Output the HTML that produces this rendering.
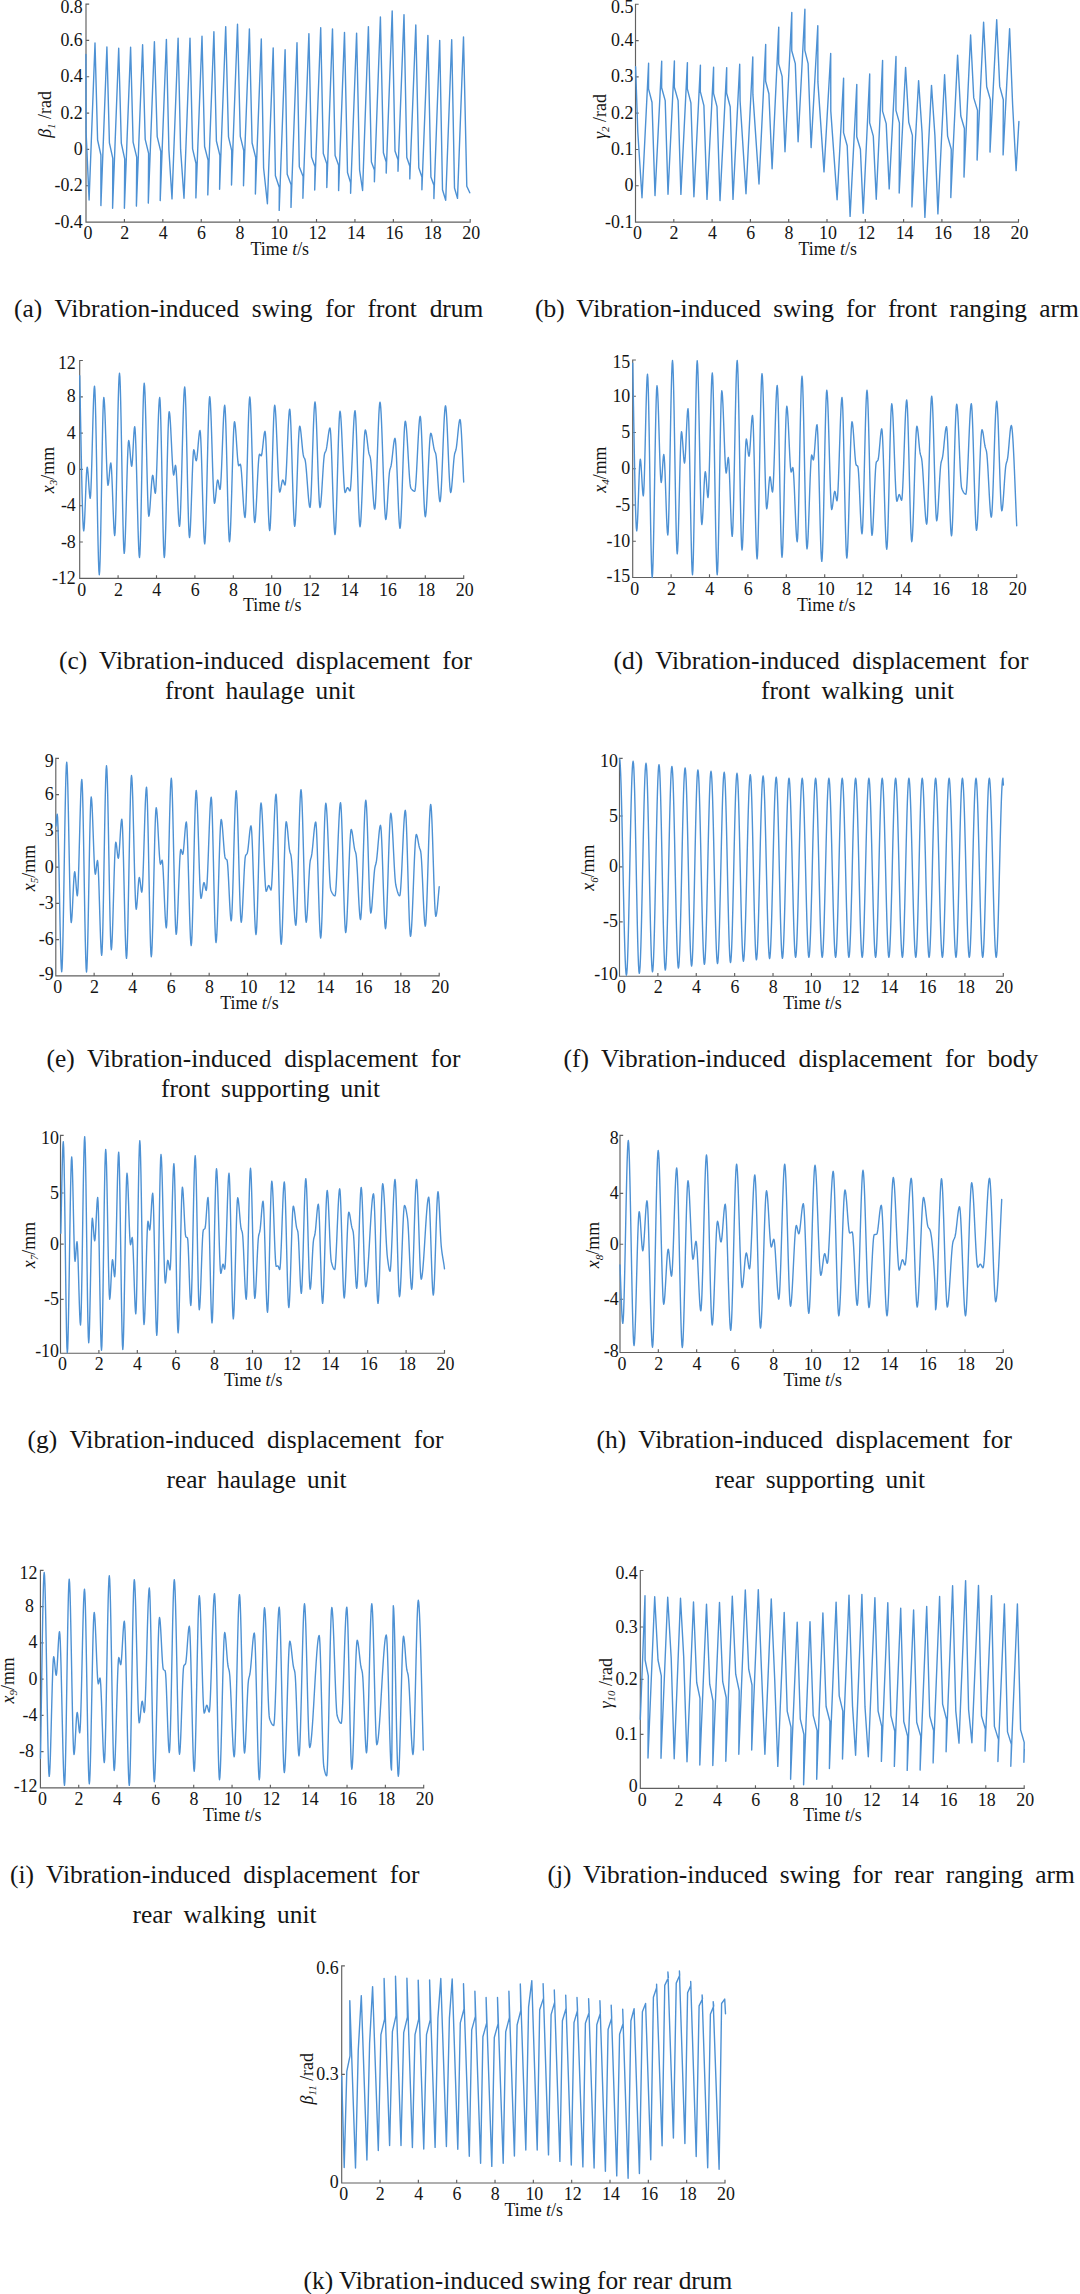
<!DOCTYPE html>
<html lang="en"><head><meta charset="utf-8"><title>Vibration-induced responses</title>
<style>html,body{margin:0;padding:0;background:#fff}body{width:1080px;height:2294px;overflow:hidden}svg{display:block}text{font-family:"Liberation Serif","Times New Roman",serif;fill:#141414}.t{font-size:17.9px}.c{font-size:25.4px;white-space:pre}.ax{stroke:#606060;stroke-width:1.15;fill:none;stroke-linecap:square}.ln{stroke:#4d91d4;stroke-width:1.4;fill:none;stroke-linejoin:round;stroke-linecap:round}i{font-style:italic}</style></head><body>
<svg width="1080" height="2294" viewBox="0 0 1080 2294">
<g id="chart-a">
<path class="ax" d="M86 4.1V222.05H470.2M86 4.1h2.6M86 40.43h2.6M86 76.75h2.6M86 113.08h2.6M86 149.4h2.6M86 185.72h2.6M86 222.05h2.6M86 222.05v-2.6M124.42 222.05v-2.6M162.84 222.05v-2.6M201.26 222.05v-2.6M239.68 222.05v-2.6M278.1 222.05v-2.6M316.52 222.05v-2.6M354.94 222.05v-2.6M393.36 222.05v-2.6M431.78 222.05v-2.6M470.2 222.05v-2.6"/>
<polyline class="ln" points="85.9,54.4 86.1,132.2 89.1,200 95,43 97.6,140 100.9,155 100.9,205.6 106.9,47 109.4,142.8 112.8,158.3 112.6,208.3 118.7,48.3 121.3,143.1 124.7,158.9 124.4,208.3 130.6,47.2 133.1,142.2 136.7,157.2 136.4,206.1 142.6,44.7 145.2,139.4 148.6,153.3 148.3,203.1 154.4,41.7 157.2,136.7 160.8,151.7 160.2,200.6 166.4,39.4 168.9,150 172,198.9 178.1,38.3 180.6,149.4 184,198.3 190,38.1 192.6,148.8 196,163.5 195.9,197.9 202,36.3 204.6,146.5 208.1,160.4 207.8,194.9 213.9,31.7 216.4,141 219.9,155.6 219.6,189.3 225.7,26.6 228.5,136.8 231.7,150.7 231.5,185 237.5,24.3 240.3,136.4 243.75,150.7 243.5,185.8 249.4,28.9 252.1,143 255.7,157.6 255.4,194 261.3,38.9 263.6,168 267.4,203.75 273.2,47.9 275.4,175.7 279.3,187.5 279.2,210.4 285.1,49.8 287.2,174.3 291.1,184.7 291,207.4 297,42.8 299.3,166.7 303.1,176.4 302.9,198.3 308.9,33.6 311.5,156.9 315,166.7 314.7,190 320.7,27.8 323.3,153.5 326.8,163.9 326.8,187.5 332.5,28.9 335.1,155.6 338.6,165.3 338.6,190.6 344.5,32.4 347.5,172.5 350.6,182.9 350.6,193.3 356.6,33.1 359.6,170.1 362.6,190.5 368.4,26.6 371.4,162 374.4,170.1 374.4,181.7 380.4,16.9 383.4,152.8 386.2,162 386.2,173.1 392.2,10.9 395,151 398,159.7 398,171.3 404,14.6 406.8,157.4 409.8,166.2 409.8,178.9 415.8,25 418.8,167.8 421.9,177 421.9,189.8 427.9,35.4 430.9,177 433.9,185.2 433.9,198.6 439.7,40.5 442.5,189.8 445.7,200.2 451.7,39.8 454.5,188 457.5,198.4 463.5,37 466.8,186.3 469.8,192.8"/>
<text class="t" text-anchor="end" x="82.8" y="13.05">0.8</text>
<text class="t" text-anchor="end" x="82.8" y="45.98">0.6</text>
<text class="t" text-anchor="end" x="82.8" y="82.3">0.4</text>
<text class="t" text-anchor="end" x="82.8" y="118.62">0.2</text>
<text class="t" text-anchor="end" x="82.8" y="154.95">0</text>
<text class="t" text-anchor="end" x="82.8" y="191.28">-0.2</text>
<text class="t" text-anchor="end" x="82.8" y="227.6">-0.4</text>
<text class="t" text-anchor="middle" x="88" y="239.25">0</text>
<text class="t" text-anchor="middle" x="124.72" y="239.25">2</text>
<text class="t" text-anchor="middle" x="163.14" y="239.25">4</text>
<text class="t" text-anchor="middle" x="201.56" y="239.25">6</text>
<text class="t" text-anchor="middle" x="239.98" y="239.25">8</text>
<text class="t" text-anchor="middle" x="279.1" y="239.25">10</text>
<text class="t" text-anchor="middle" x="317.52" y="239.25">12</text>
<text class="t" text-anchor="middle" x="355.94" y="239.25">14</text>
<text class="t" text-anchor="middle" x="394.36" y="239.25">16</text>
<text class="t" text-anchor="middle" x="432.78" y="239.25">18</text>
<text class="t" text-anchor="middle" x="471.2" y="239.25">20</text>
<text class="t" text-anchor="middle" x="279.8" y="255.05">Time <tspan font-style="italic">t</tspan>/s</text>
<text class="t" text-anchor="middle" transform="translate(51 114.5) rotate(-90)"><tspan font-style="italic">β</tspan><tspan font-style="italic" font-size="11" dy="3.5">1</tspan><tspan dy="-3.5"> /rad</tspan></text>
</g>
<g id="chart-b">
<path class="ax" d="M635.5 4.25V222.1H1018.5M635.5 4.25h2.6M635.5 40.56h2.6M635.5 76.87h2.6M635.5 113.17h2.6M635.5 149.48h2.6M635.5 185.79h2.6M635.5 222.1h2.6M635.5 222.1v-2.6M673.8 222.1v-2.6M712.1 222.1v-2.6M750.4 222.1v-2.6M788.7 222.1v-2.6M827 222.1v-2.6M865.3 222.1v-2.6M903.6 222.1v-2.6M941.9 222.1v-2.6M980.2 222.1v-2.6M1018.5 222.1v-2.6"/>
<polyline class="ln" points="635.6,66.7 637.8,132 642,197.8 648.6,63.3 648.55,88.9 652,102.2 655,195.6 661.7,61.1 661.65,87.8 665.2,100.6 668,194.2 674.4,60.9 674.35,87.2 678.1,100.6 680.9,194.4 687.4,62.6 687.35,88.9 690.9,102.8 693.9,196.7 700.4,65.3 700.35,91.7 703.9,105.6 707,199.4 713.6,67.2 713.55,93.3 717,106.7 720,200.6 726.7,67.6 726.65,93.3 730.2,106.7 733,199.4 739.7,64.2 740.1,101 746,193.75 752.8,56.9 752.9,94.4 759,184 765.7,44.4 765.65,81.25 768.9,93.75 772.1,168.75 778.75,27.1 778.7,63.9 782.1,76.4 785,151.7 791.8,12.5 791.75,50.7 795.3,63.6 798.1,141.7 804.9,9.3 804.85,50.3 808.1,63.6 811.1,147.6 817.8,25.7 817.9,81.9 824,171.9 830.7,53.5 830.8,111.1 837.1,199.7 843.6,78.1 843.55,132.6 847.2,145.8 850.1,216.4 856.8,84.4 856.75,136.8 860.4,149.3 863.2,213.2 869.7,74 869.65,122.9 873.3,136.1 876.25,199.3 882.6,60.4 882.55,111.1 886.2,123.6 889.2,188.9 896,56.5 895.95,110.4 899.4,122.9 899.2,193 905.6,67.4 908.75,122.2 912.4,135.4 911.9,206.9 918.6,80.6 922.1,133.3 924.9,217.4 931.5,85.4 934.9,135.4 937.9,213.9 944.6,74.7 947.6,136.1 951.25,149.3 950.8,197.6 957.6,55.1 960.8,116 964.4,128.5 964,177.1 970.6,35 973.75,97.9 977.5,110.4 977.1,160.1 983.6,22.2 986.7,86.8 990.4,99.7 990,152.1 996.7,19.7 999.7,86.4 1003.3,99.7 1003.1,154.9 1009.6,28.75 1012.6,104.2 1016.1,170.6 1018.9,121.5"/>
<text class="t" text-anchor="end" x="633.4" y="12.6">0.5</text>
<text class="t" text-anchor="end" x="633.4" y="46.11">0.4</text>
<text class="t" text-anchor="end" x="633.4" y="82.42">0.3</text>
<text class="t" text-anchor="end" x="633.4" y="118.72">0.2</text>
<text class="t" text-anchor="end" x="633.4" y="155.03">0.1</text>
<text class="t" text-anchor="end" x="633.4" y="191.34">0</text>
<text class="t" text-anchor="end" x="633.4" y="227.65">-0.1</text>
<text class="t" text-anchor="middle" x="637.5" y="239.3">0</text>
<text class="t" text-anchor="middle" x="674.1" y="239.3">2</text>
<text class="t" text-anchor="middle" x="712.4" y="239.3">4</text>
<text class="t" text-anchor="middle" x="750.7" y="239.3">6</text>
<text class="t" text-anchor="middle" x="789" y="239.3">8</text>
<text class="t" text-anchor="middle" x="828" y="239.3">10</text>
<text class="t" text-anchor="middle" x="866.3" y="239.3">12</text>
<text class="t" text-anchor="middle" x="904.6" y="239.3">14</text>
<text class="t" text-anchor="middle" x="942.9" y="239.3">16</text>
<text class="t" text-anchor="middle" x="981.2" y="239.3">18</text>
<text class="t" text-anchor="middle" x="1019.5" y="239.3">20</text>
<text class="t" text-anchor="middle" x="827.7" y="255.1">Time <tspan font-style="italic">t</tspan>/s</text>
<text class="t" text-anchor="middle" transform="translate(605.75 116.6) rotate(-90)"><tspan font-style="italic">γ</tspan><tspan font-style="italic" font-size="11" dy="3.5">2</tspan><tspan dy="-3.5"> /rad</tspan></text>
</g>
<g id="chart-c">
<path class="ax" d="M79.7 360.5V578.3H463.7M79.7 360.5h2.6M79.7 396.8h2.6M79.7 433.1h2.6M79.7 469.4h2.6M79.7 505.7h2.6M79.7 542h2.6M79.7 578.3h2.6M79.7 578.3v-2.6M118.1 578.3v-2.6M156.5 578.3v-2.6M194.9 578.3v-2.6M233.3 578.3v-2.6M271.7 578.3v-2.6M310.1 578.3v-2.6M348.5 578.3v-2.6M386.9 578.3v-2.6M425.3 578.3v-2.6M463.7 578.3v-2.6"/>
<polyline class="ln" points="79.7,375.8 80.1,395.21 80.5,415.73 80.9,436.62 81.3,457.14 81.7,476.55 82.1,494.1 82.5,509.04 82.9,520.63 83.3,528.13 83.7,530.8 84.09,528.62 84.48,522.77 84.87,514.31 85.26,504.28 85.64,493.72 86.03,483.69 86.42,475.23 86.81,469.38 87.2,467.2 87.58,468.54 87.95,472.06 88.33,477.04 88.7,482.75 89.08,488.46 89.45,493.44 89.83,496.96 90.2,498.3 90.59,495.69 90.98,488.53 91.37,477.83 91.76,464.61 92.15,449.87 92.55,434.63 92.94,419.89 93.33,406.67 93.72,395.97 94.11,388.81 94.5,386.2 94.9,389.91 95.3,400.16 95.7,415.65 96.1,435.07 96.5,457.11 96.9,480.45 97.3,503.79 97.7,525.83 98.1,545.25 98.5,560.74 98.9,570.99 99.3,574.7 99.67,571.21 100.05,561.57 100.42,547.01 100.8,528.76 101.17,508.04 101.55,486.1 101.92,464.16 102.3,443.44 102.67,425.19 103.05,410.63 103.42,400.99 103.8,397.5 104.18,399.54 104.56,405.15 104.95,413.53 105.33,423.89 105.71,435.43 106.09,447.37 106.47,458.91 106.85,469.27 107.24,477.65 107.62,483.26 108,485.3 108.4,484.06 108.8,480.88 109.2,476.52 109.6,471.78 110,467.42 110.4,464.24 110.8,463 111.19,465.03 111.58,470.54 111.97,478.66 112.36,488.52 112.75,499.25 113.14,509.98 113.53,519.84 113.92,527.96 114.31,533.47 114.7,535.5 115.1,532.31 115.5,523.49 115.9,510.16 116.3,493.45 116.7,474.49 117.1,454.4 117.5,434.31 117.9,415.35 118.3,398.64 118.7,385.31 119.1,376.49 119.5,373.3 119.89,376.84 120.28,386.63 120.67,401.43 121.07,419.97 121.46,441.01 121.85,463.3 122.24,485.59 122.63,506.63 123.03,525.17 123.42,539.97 123.81,549.76 124.2,553.3 124.58,551.08 124.95,544.94 125.33,535.67 125.7,524.06 126.08,510.87 126.45,496.9 126.82,482.93 127.2,469.74 127.57,458.12 127.95,448.86 128.32,442.72 128.7,440.5 129.07,441.61 129.45,444.53 129.82,448.66 130.2,453.4 130.57,458.14 130.95,462.27 131.32,465.19 131.7,466.3 132.07,464.6 132.45,460.11 132.82,453.77 133.2,446.5 133.57,439.23 133.95,432.89 134.32,428.4 134.7,426.7 135.07,428.9 135.44,435.04 135.81,444.38 136.18,456.23 136.55,469.86 136.92,484.57 137.28,499.63 137.65,514.34 138.02,527.97 138.39,539.82 138.76,549.16 139.13,555.3 139.5,557.5 139.89,554.07 140.28,544.6 140.68,530.28 141.07,512.34 141.46,491.97 141.85,470.4 142.24,448.83 142.63,428.46 143.02,410.52 143.42,396.2 143.81,386.73 144.2,383.3 144.58,385.91 144.97,393.14 145.35,404.07 145.73,417.76 146.12,433.29 146.5,449.75 146.88,466.21 147.27,481.74 147.65,495.43 148.03,506.36 148.42,513.59 148.8,516.2 149.19,515.05 149.58,511.95 149.97,507.37 150.36,501.8 150.75,495.75 151.14,489.7 151.53,484.13 151.92,479.55 152.31,476.45 152.7,475.3 153.07,476.3 153.44,478.87 153.81,482.38 154.19,486.22 154.56,489.73 154.93,492.3 155.3,493.3 155.7,491.07 156.1,484.95 156.5,475.81 156.9,464.51 157.3,451.91 157.7,438.89 158.1,426.29 158.5,414.99 158.9,405.85 159.3,399.73 159.7,397.5 160.08,400.65 160.47,409.35 160.85,422.5 161.23,438.98 161.62,457.69 162,477.5 162.38,497.31 162.77,516.02 163.15,532.5 163.53,545.65 163.92,554.35 164.3,557.5 164.68,555.04 165.05,548.21 165.43,537.79 165.81,524.58 166.18,509.39 166.56,492.99 166.94,476.21 167.32,459.81 167.69,444.62 168.07,431.41 168.45,420.99 168.82,414.16 169.2,411.7 169.57,412.95 169.95,416.39 170.32,421.59 170.7,428.11 171.07,435.51 171.45,443.35 171.82,451.19 172.2,458.59 172.57,465.11 172.95,470.31 173.32,473.75 173.7,475 174.06,473.99 174.42,471.59 174.78,468.71 175.14,466.31 175.5,465.3 175.9,467.01 176.3,471.64 176.7,478.48 177.1,486.77 177.5,495.8 177.9,504.83 178.3,513.12 178.7,519.96 179.1,524.59 179.5,526.3 179.9,523.95 180.3,517.42 180.7,507.47 181.1,494.85 181.5,480.33 181.9,464.67 182.3,448.63 182.7,432.97 183.1,418.45 183.5,405.83 183.9,395.88 184.3,389.35 184.7,387 185.07,389.53 185.44,396.59 185.81,407.35 186.18,420.98 186.55,436.66 186.92,453.58 187.28,470.92 187.65,487.84 188.02,503.52 188.39,517.15 188.76,527.91 189.13,534.97 189.5,537.5 189.89,535.46 190.28,529.85 190.67,521.47 191.06,511.11 191.45,499.57 191.85,487.63 192.24,476.09 192.63,465.73 193.02,457.35 193.41,451.74 193.8,449.7 194.2,450.52 194.6,452.58 195,455.25 195.4,457.92 195.8,459.98 196.2,460.8 196.58,459.95 196.96,457.65 197.34,454.26 197.72,450.13 198.1,445.65 198.48,441.17 198.86,437.04 199.24,433.65 199.62,431.35 200,430.5 200.39,432.73 200.78,438.89 201.18,448.2 201.57,459.87 201.96,473.12 202.35,487.15 202.74,501.18 203.13,514.43 203.52,526.1 203.92,535.41 204.31,541.57 204.7,543.8 205.08,541.32 205.47,534.43 205.85,523.91 206.24,510.59 206.62,495.26 207.01,478.72 207.39,461.78 207.78,445.24 208.16,429.91 208.55,416.59 208.93,406.07 209.32,399.18 209.7,396.7 210.07,398.5 210.44,403.49 210.81,411.11 211.18,420.77 211.55,431.88 211.92,443.86 212.28,456.14 212.65,468.12 213.02,479.23 213.39,488.89 213.76,496.51 214.13,501.5 214.5,503.3 214.9,502.3 215.3,499.66 215.7,495.93 216.1,491.65 216.5,487.37 216.9,483.64 217.3,481 217.7,480 218.08,480.7 218.47,482.46 218.85,484.75 219.23,487.04 219.62,488.8 220,489.5 220.39,487.84 220.78,483.26 221.18,476.34 221.57,467.67 221.96,457.83 222.35,447.4 222.74,436.97 223.13,427.13 223.52,418.46 223.92,411.54 224.31,406.96 224.7,405.3 225.07,407.6 225.44,413.99 225.81,423.74 226.18,436.09 226.55,450.31 226.92,465.65 227.28,481.35 227.65,496.69 228.02,510.91 228.39,523.26 228.76,533.01 229.13,539.4 229.5,541.7 229.88,539.68 230.27,534.05 230.65,525.48 231.04,514.61 231.42,502.1 231.81,488.61 232.19,474.79 232.58,461.3 232.96,448.79 233.35,437.92 233.73,429.35 234.12,423.72 234.5,421.7 234.88,422.73 235.26,425.54 235.65,429.75 236.03,434.95 236.41,440.75 236.79,446.75 237.17,452.55 237.55,457.75 237.94,461.96 238.32,464.77 238.7,465.8 239.02,465.63 239.34,465.24 239.66,464.76 239.98,464.37 240.3,464.2 240.69,465.25 241.08,468.15 241.48,472.53 241.87,478.02 242.26,484.25 242.65,490.85 243.04,497.45 243.43,503.68 243.82,509.17 244.22,513.55 244.61,516.45 245,517.5 245.37,515.47 245.74,509.82 246.11,501.21 246.48,490.3 246.85,477.74 247.22,464.19 247.58,450.31 247.95,436.76 248.32,424.2 248.69,413.29 249.06,404.68 249.43,399.03 249.8,397 250.18,399.11 250.55,405 250.93,413.97 251.31,425.33 251.68,438.41 252.06,452.52 252.44,466.98 252.82,481.09 253.19,494.17 253.57,505.53 253.95,514.5 254.32,520.39 254.7,522.5 255.07,521.35 255.44,518.15 255.81,513.27 256.18,507.08 256.55,499.96 256.92,492.28 257.28,484.42 257.65,476.74 258.02,469.62 258.39,463.43 258.76,458.55 259.13,455.35 259.5,454.2 259.84,454.37 260.18,454.76 260.52,455.24 260.86,455.63 261.2,455.8 261.58,455.11 261.96,453.25 262.34,450.51 262.72,447.18 263.1,443.55 263.48,439.92 263.86,436.59 264.24,433.85 264.62,431.99 265,431.3 265.39,433.25 265.78,438.65 266.18,446.8 266.57,457.02 266.96,468.61 267.35,480.9 267.74,493.19 268.13,504.78 268.52,515 268.92,523.15 269.31,528.55 269.7,530.5 270.08,528.39 270.47,522.52 270.85,513.57 271.24,502.23 271.62,489.18 272.01,475.11 272.39,460.69 272.78,446.62 273.16,433.57 273.55,422.23 273.93,413.28 274.32,407.41 274.7,405.3 275.08,406.76 275.47,410.82 275.85,417.02 276.24,424.87 276.62,433.91 277.01,443.66 277.39,453.64 277.78,463.39 278.16,472.43 278.55,480.28 278.93,486.48 279.32,490.54 279.7,492 280.09,491.48 280.48,490.12 280.86,488.2 281.25,486 281.64,483.8 282.02,481.88 282.41,480.52 282.8,480 283.17,480.37 283.53,481.3 283.9,482.5 284.27,483.7 284.63,484.63 285,485 285.39,483.51 285.78,479.39 286.18,473.16 286.57,465.35 286.96,456.49 287.35,447.1 287.74,437.71 288.13,428.85 288.52,421.04 288.92,414.81 289.31,410.69 289.7,409.2 290.08,411.17 290.47,416.66 290.85,425.03 291.24,435.64 291.62,447.84 292.01,461.01 292.39,474.49 292.78,487.66 293.16,499.86 293.55,510.47 293.93,518.84 294.32,524.33 294.7,526.3 295.08,524.61 295.47,519.92 295.85,512.77 296.24,503.7 296.62,493.27 297.01,482.01 297.39,470.49 297.78,459.23 298.16,448.8 298.55,439.73 298.93,432.58 299.32,427.89 299.7,426.2 300.09,426.94 300.48,428.97 300.87,431.99 301.26,435.71 301.65,439.85 302.04,444.1 302.43,448.19 302.82,451.81 303.21,454.68 303.6,456.5 303.95,457.37 304.3,457.99 304.65,458.62 305,459.5 305.38,461.33 305.77,464.28 306.15,468.13 306.54,472.65 306.92,477.62 307.31,482.83 307.69,488.06 308.08,493.09 308.46,497.69 308.85,501.65 309.23,504.75 309.62,506.78 310,507.5 310.38,505.72 310.77,500.78 311.15,493.24 311.54,483.68 311.92,472.69 312.31,460.82 312.69,448.68 313.08,436.81 313.46,425.82 313.85,416.26 314.23,408.72 314.62,403.78 315,402 315.38,403.78 315.77,408.72 316.15,416.26 316.54,425.82 316.92,436.81 317.31,448.68 317.69,460.82 318.08,472.69 318.46,483.68 318.85,493.24 319.23,500.78 319.62,505.72 320,507.5 320.38,506.53 320.77,503.84 321.15,499.76 321.53,494.6 321.92,488.69 322.3,482.36 322.68,475.92 323.07,469.7 323.45,464.03 323.83,459.22 324.22,455.6 324.6,453.5 324.95,452.59 325.3,451.94 325.65,451.33 326,450.5 326.4,448.93 326.8,446.68 327.2,443.94 327.6,440.91 328,437.8 328.4,434.81 328.8,432.13 329.2,429.97 329.6,428.53 330,428 330.38,429.79 330.77,434.79 331.15,442.4 331.54,452.04 331.92,463.14 332.31,475.12 332.69,487.38 333.08,499.36 333.46,510.46 333.85,520.1 334.23,527.71 334.62,532.71 335,534.5 335.38,532.43 335.77,526.65 336.15,517.85 336.54,506.69 336.92,493.84 337.31,479.99 337.69,465.81 338.08,451.96 338.46,439.11 338.85,427.95 339.23,419.15 339.62,413.37 340,411.3 340.39,412.67 340.78,416.47 341.18,422.28 341.57,429.63 341.96,438.1 342.35,447.22 342.75,456.58 343.14,465.7 343.53,474.17 343.92,481.52 344.32,487.33 344.71,491.13 345.1,492.5 345.46,492.23 345.81,491.53 346.17,490.57 346.53,489.53 346.89,488.57 347.24,487.87 347.6,487.6 348,487.85 348.4,488.48 348.8,489.3 349.2,490.12 349.6,490.75 350,491 350.38,489.65 350.77,485.88 351.15,480.13 351.54,472.85 351.92,464.47 352.31,455.43 352.69,446.17 353.08,437.13 353.46,428.75 353.85,421.47 354.23,415.72 354.62,411.95 355,410.6 355.38,412.56 355.77,418 356.15,426.29 356.54,436.81 356.92,448.91 357.31,461.97 357.69,475.33 358.08,488.39 358.46,500.49 358.85,511.01 359.23,519.3 359.62,524.74 360,526.7 360.38,525.29 360.76,521.34 361.14,515.28 361.51,507.53 361.89,498.51 362.27,488.64 362.65,478.35 363.03,468.06 363.41,458.19 363.79,449.17 364.16,441.42 364.54,435.36 364.92,431.41 365.3,430 365.67,430.53 366.04,431.98 366.41,434.16 366.78,436.88 367.15,439.93 367.52,443.14 367.89,446.29 368.26,449.2 368.63,451.66 369,453.5 369.32,454.57 369.65,455.42 369.98,456.31 370.3,457.5 370.7,460.16 371.1,464.37 371.5,469.74 371.9,475.89 372.3,482.46 372.7,489.05 373.1,495.3 373.5,500.81 373.9,505.22 374.3,508.14 374.7,509.2 375.08,507.64 375.46,503.27 375.84,496.57 376.21,487.99 376.59,478 376.97,467.09 377.35,455.7 377.73,444.31 378.11,433.4 378.49,423.41 378.86,414.83 379.24,408.13 379.62,403.76 380,402.2 380.39,403.69 380.77,407.9 381.16,414.4 381.55,422.78 381.93,432.61 382.32,443.49 382.71,454.99 383.09,466.71 383.48,478.21 383.87,489.09 384.25,498.92 384.64,507.3 385.03,513.8 385.41,518.01 385.8,519.5 386.19,518.3 386.58,515.02 386.97,510.13 387.36,504.11 387.75,497.42 388.14,490.53 388.53,483.93 388.92,478.07 389.31,473.44 389.7,470.5 390.02,469.16 390.35,468.15 390.68,467.2 391,466 391.4,463.81 391.8,460.88 392.2,457.45 392.6,453.73 393,449.97 393.4,446.37 393.8,443.18 394.2,440.62 394.6,438.92 395,438.3 395.38,439.82 395.77,444.04 396.15,450.47 396.54,458.62 396.92,468 397.31,478.12 397.69,488.48 398.08,498.6 398.46,507.98 398.85,516.13 399.23,522.56 399.62,526.78 400,528.3 400.38,526.74 400.76,522.37 401.14,515.65 401.51,507.07 401.89,497.08 402.27,486.15 402.65,474.75 403.03,463.35 403.41,452.42 403.79,442.43 404.16,433.85 404.54,427.13 404.92,422.76 405.3,421.2 405.69,422.13 406.09,424.76 406.48,428.79 406.87,433.96 407.26,440 407.66,446.62 408.05,453.56 408.44,460.55 408.84,467.3 409.23,473.55 409.62,479.02 410.01,483.43 410.41,486.52 410.8,488 411.19,488.57 411.58,489.1 411.97,489.58 412.36,490.01 412.75,490.38 413.14,490.7 413.53,490.96 413.92,491.14 414.31,491.26 414.7,491.3 415.09,490.21 415.49,487.15 415.88,482.44 416.27,476.43 416.66,469.43 417.06,461.78 417.45,453.8 417.84,445.82 418.24,438.17 418.63,431.17 419.02,425.16 419.41,420.45 419.81,417.39 420.2,416.3 420.59,417.99 420.98,422.7 421.38,429.87 421.77,438.97 422.16,449.43 422.55,460.72 422.95,472.28 423.34,483.57 423.73,494.03 424.12,503.13 424.52,510.3 424.91,515.01 425.3,516.7 425.69,515.48 426.09,512.08 426.48,506.85 426.87,500.17 427.26,492.39 427.66,483.87 428.05,475 428.44,466.13 428.84,457.61 429.23,449.83 429.62,443.15 430.01,437.92 430.41,434.52 430.8,433.3 431.2,433.75 431.6,434.98 432,436.8 432.4,439.04 432.8,441.52 433.2,444.05 433.6,446.47 434,448.57 434.4,450.2 434.75,451.18 435.1,451.98 435.45,452.84 435.8,454 436.18,456.37 436.56,460.19 436.95,465.12 437.33,470.79 437.71,476.86 438.09,482.97 438.47,488.77 438.85,493.89 439.24,497.99 439.62,500.71 440,501.7 440.39,500.3 440.79,496.39 441.18,490.38 441.57,482.69 441.96,473.74 442.36,463.96 442.75,453.75 443.14,443.54 443.54,433.76 443.93,424.81 444.32,417.12 444.71,411.11 445.11,407.2 445.5,405.8 445.9,407.26 446.3,411.32 446.7,417.52 447.1,425.37 447.5,434.41 447.9,444.16 448.3,454.14 448.7,463.89 449.1,472.93 449.5,480.78 449.9,486.98 450.3,491.04 450.7,492.5 451.09,491.58 451.48,489.06 451.87,485.29 452.26,480.63 452.65,475.44 453.04,470.07 453.43,464.89 453.82,460.25 454.21,456.5 454.6,454 454.95,452.69 455.3,451.7 455.65,450.74 456,449.5 456.4,447.29 456.8,444.21 457.2,440.53 457.6,436.5 458,432.39 458.4,428.44 458.8,424.91 459.2,422.08 459.6,420.19 460,419.5 460.37,420.57 460.74,423.6 461.11,428.28 461.48,434.3 461.85,441.38 462.22,449.2 462.59,457.48 462.96,465.9 463.33,474.18 463.7,482"/>
<text class="t" text-anchor="end" x="75.8" y="368.85">12</text>
<text class="t" text-anchor="end" x="75.8" y="402.35">8</text>
<text class="t" text-anchor="end" x="75.8" y="438.65">4</text>
<text class="t" text-anchor="end" x="75.8" y="474.95">0</text>
<text class="t" text-anchor="end" x="75.8" y="511.25">-4</text>
<text class="t" text-anchor="end" x="75.8" y="547.55">-8</text>
<text class="t" text-anchor="end" x="75.8" y="583.85">-12</text>
<text class="t" text-anchor="middle" x="81.7" y="595.5">0</text>
<text class="t" text-anchor="middle" x="118.4" y="595.5">2</text>
<text class="t" text-anchor="middle" x="156.8" y="595.5">4</text>
<text class="t" text-anchor="middle" x="195.2" y="595.5">6</text>
<text class="t" text-anchor="middle" x="233.6" y="595.5">8</text>
<text class="t" text-anchor="middle" x="272.7" y="595.5">10</text>
<text class="t" text-anchor="middle" x="311.1" y="595.5">12</text>
<text class="t" text-anchor="middle" x="349.5" y="595.5">14</text>
<text class="t" text-anchor="middle" x="387.9" y="595.5">16</text>
<text class="t" text-anchor="middle" x="426.3" y="595.5">18</text>
<text class="t" text-anchor="middle" x="464.7" y="595.5">20</text>
<text class="t" text-anchor="middle" x="272.25" y="611.3">Time <tspan font-style="italic">t</tspan>/s</text>
<text class="t" text-anchor="middle" transform="translate(53.8 470) rotate(-90)"><tspan font-style="italic">x</tspan><tspan font-style="italic" font-size="11" dy="3.5">3</tspan><tspan dy="-3.5">/mm</tspan></text>
</g>
<g id="chart-d">
<path class="ax" d="M632.7 360V577.5H1016.7M632.7 360h2.6M632.7 396.25h2.6M632.7 432.5h2.6M632.7 468.75h2.6M632.7 505h2.6M632.7 541.25h2.6M632.7 577.5h2.6M632.7 577.5v-2.6M671.1 577.5v-2.6M709.5 577.5v-2.6M747.9 577.5v-2.6M786.3 577.5v-2.6M824.7 577.5v-2.6M863.1 577.5v-2.6M901.5 577.5v-2.6M939.9 577.5v-2.6M978.3 577.5v-2.6M1016.7 577.5v-2.6"/>
<polyline class="ln" points="632.7,363.3 633.1,384.27 633.5,406.45 633.9,429.03 634.3,451.2 634.7,472.17 635.1,491.14 635.5,507.28 635.9,519.81 636.3,527.92 636.7,530.8 637.1,528.34 637.5,521.76 637.9,512.24 638.3,500.94 638.7,489.06 639.1,477.76 639.5,468.24 639.9,461.66 640.3,459.2 640.67,460.77 641.05,464.92 641.42,470.78 641.8,477.5 642.17,484.22 642.55,490.08 642.92,494.23 643.3,495.8 643.68,492.97 644.06,485.2 644.45,473.6 644.83,459.26 645.21,443.27 645.59,426.73 645.97,410.74 646.35,396.4 646.74,384.8 647.12,377.03 647.5,374.2 647.89,378.2 648.28,389.26 648.67,405.97 649.07,426.91 649.46,450.67 649.85,475.85 650.24,501.03 650.63,524.79 651.03,545.73 651.42,562.44 651.81,573.5 652.2,577.5 652.6,573.73 653,563.3 653.4,547.55 653.8,527.8 654.2,505.39 654.6,481.65 655,457.91 655.4,435.5 655.8,415.75 656.2,400 656.6,389.57 657,385.8 657.38,388.05 657.76,394.23 658.15,403.45 658.53,414.86 658.91,427.57 659.29,440.73 659.67,453.44 660.05,464.85 660.44,474.07 660.82,480.25 661.2,482.5 661.57,480.95 661.94,476.95 662.31,471.48 662.69,465.52 663.06,460.05 663.43,456.05 663.8,454.5 664.2,456.75 664.6,462.87 665,471.89 665.4,482.84 665.8,494.75 666.2,506.66 666.6,517.61 667,526.63 667.4,532.75 667.8,535 668.19,531.57 668.58,522.07 668.97,507.73 669.37,489.76 669.76,469.36 670.15,447.75 670.54,426.14 670.93,405.74 671.33,387.77 671.72,373.43 672.11,363.93 672.5,360.5 672.89,364.3 673.28,374.82 673.67,390.7 674.07,410.61 674.46,433.21 674.85,457.15 675.24,481.09 675.63,503.69 676.03,523.6 676.42,539.48 676.81,550 677.2,553.8 677.59,550.96 677.98,543.16 678.37,531.51 678.76,517.11 679.15,501.05 679.55,484.45 679.94,468.39 680.33,453.99 680.72,442.34 681.11,434.54 681.5,431.7 681.88,433.04 682.25,436.59 682.62,441.6 683,447.35 683.38,453.1 683.75,458.11 684.12,461.66 684.5,463 684.89,461.14 685.28,456.15 685.67,448.92 686.06,440.36 686.44,431.34 686.83,422.78 687.22,415.55 687.61,410.56 688,408.7 688.38,411.97 688.75,421 689.12,434.64 689.5,451.74 689.88,471.14 690.25,491.7 690.62,512.26 691,531.66 691.38,548.76 691.75,562.4 692.12,571.43 692.5,574.7 692.89,570.49 693.28,558.86 693.67,541.28 694.07,519.24 694.46,494.24 694.85,467.75 695.24,441.26 695.63,416.26 696.03,394.22 696.42,376.64 696.81,365.01 697.2,360.8 697.58,364.02 697.97,372.93 698.35,386.38 698.73,403.24 699.12,422.38 699.5,442.65 699.88,462.92 700.27,482.06 700.65,498.92 701.03,512.37 701.42,521.28 701.8,524.5 702.19,522.69 702.58,517.84 702.97,510.81 703.36,502.48 703.74,493.72 704.13,485.39 704.52,478.36 704.91,473.51 705.3,471.7 705.69,473.13 706.07,476.81 706.46,481.85 706.84,487.35 707.23,492.39 707.61,496.07 708,497.5 708.39,494.6 708.78,486.65 709.17,474.77 709.56,460.08 709.95,443.72 710.35,426.78 710.74,410.42 711.13,395.73 711.52,383.85 711.91,375.9 712.3,373 712.68,376.4 713.05,385.85 713.43,400.27 713.81,418.54 714.18,439.56 714.56,462.24 714.94,485.46 715.32,508.14 715.69,529.16 716.07,547.43 716.45,561.85 716.82,571.3 717.2,574.7 717.58,571.08 717.97,561.08 718.35,545.97 718.73,527.02 719.12,505.52 719.5,482.75 719.88,459.98 720.27,438.48 720.65,419.53 721.03,404.42 721.42,394.42 721.8,390.8 722.17,392.42 722.53,396.89 722.9,403.64 723.27,412.11 723.63,421.72 724,431.9 724.37,442.08 724.73,451.69 725.1,460.16 725.47,466.91 725.83,471.38 726.2,473 726.55,471.85 726.9,468.98 727.25,465.25 727.6,461.52 727.95,458.65 728.3,457.5 728.69,459.71 729.08,465.7 729.47,474.52 729.86,485.24 730.25,496.9 730.64,508.56 731.03,519.28 731.42,528.1 731.81,534.09 732.2,536.3 732.58,533.34 732.97,525.1 733.35,512.53 733.74,496.61 734.12,478.29 734.51,458.52 734.89,438.28 735.28,418.51 735.66,400.19 736.05,384.27 736.43,371.7 736.82,363.46 737.2,360.5 737.6,364.23 738,374.54 738.4,390.11 738.8,409.63 739.2,431.78 739.6,455.25 740,478.72 740.4,500.87 740.8,520.39 741.2,535.96 741.6,546.27 742,550 742.39,547.41 742.78,540.33 743.17,529.73 743.56,516.64 743.95,502.05 744.35,486.95 744.74,472.36 745.13,459.27 745.52,448.67 745.91,441.59 746.3,439 746.69,439.96 747.07,442.43 747.46,445.81 747.84,449.49 748.23,452.87 748.61,455.34 749,456.3 749.39,454.9 749.78,451.14 750.17,445.7 750.56,439.24 750.94,432.46 751.33,426 751.72,420.56 752.11,416.8 752.5,415.4 752.88,418.22 753.27,426.02 753.65,437.81 754.03,452.58 754.42,469.34 754.8,487.1 755.18,504.86 755.57,521.62 755.95,536.39 756.33,548.18 756.72,555.98 757.1,558.8 757.48,555.68 757.85,547 758.23,533.78 758.61,517.01 758.98,497.72 759.36,476.91 759.74,455.59 760.12,434.78 760.49,415.49 760.87,398.72 761.25,385.5 761.62,376.82 762,373.7 762.39,376.36 762.78,383.71 763.17,394.81 763.57,408.73 763.96,424.52 764.35,441.25 764.74,457.98 765.13,473.77 765.53,487.69 765.92,498.79 766.31,506.14 766.7,508.8 767.07,507.7 767.43,504.75 767.8,500.48 768.17,495.41 768.53,490.09 768.9,485.02 769.27,480.75 769.63,477.8 770,476.7 770.36,477.55 770.71,479.73 771.07,482.72 771.43,485.98 771.79,488.97 772.14,491.15 772.5,492 772.89,489.9 773.28,484.11 773.67,475.36 774.07,464.39 774.46,451.94 774.85,438.75 775.24,425.56 775.63,413.11 776.03,402.14 776.42,393.39 776.81,387.6 777.2,385.5 777.6,388.88 778,398.22 778.4,412.33 778.8,430.01 779.2,450.09 779.6,471.35 780,492.61 780.4,512.69 780.8,530.37 781.2,544.48 781.6,553.82 782,557.2 782.4,554.23 782.8,546.02 783.2,533.62 783.6,518.08 784,500.44 784.4,481.75 784.8,463.06 785.2,445.42 785.6,429.88 786,417.48 786.4,409.27 786.8,406.3 787.17,407.59 787.53,411.17 787.9,416.57 788.27,423.33 788.63,431.01 789,439.15 789.37,447.29 789.73,454.97 790.1,461.73 790.47,467.13 790.83,470.71 791.2,472 791.6,471.3 792,469.75 792.4,468.2 792.8,467.5 793.17,468.96 793.53,473 793.9,479.09 794.27,486.74 794.63,495.41 795,504.6 795.37,513.79 795.73,522.46 796.1,530.11 796.47,536.2 796.83,540.24 797.2,541.7 797.6,538.45 798,529.45 798.4,515.86 798.8,498.82 799.2,479.48 799.6,459 800,438.52 800.4,419.18 800.8,402.14 801.2,388.55 801.6,379.55 802,376.3 802.38,379.21 802.77,387.29 803.15,399.62 803.54,415.24 803.92,433.22 804.31,452.62 804.69,472.48 805.08,491.88 805.46,509.86 805.85,525.48 806.23,537.81 806.62,545.89 807,548.8 807.39,546.95 807.78,541.85 808.17,534.14 808.57,524.48 808.96,513.52 809.35,501.9 809.74,490.28 810.13,479.32 810.53,469.66 810.92,461.95 811.31,456.85 811.7,455 812.1,455.78 812.5,457.5 812.9,459.22 813.3,460 813.67,459.01 814.04,456.33 814.41,452.38 814.78,447.57 815.15,442.35 815.52,437.13 815.89,432.32 816.26,428.37 816.63,425.69 817,424.7 817.4,427.39 817.8,434.82 818.2,446.04 818.6,460.11 819,476.08 819.4,493 819.8,509.92 820.2,525.89 820.6,539.96 821,551.18 821.4,558.61 821.8,561.3 822.18,558.42 822.57,550.4 822.95,538.18 823.34,522.69 823.72,504.87 824.11,485.65 824.49,465.95 824.88,446.73 825.26,428.91 825.65,413.42 826.03,401.2 826.42,393.18 826.8,390.3 827.18,392.31 827.55,397.9 827.93,406.41 828.31,417.21 828.68,429.64 829.06,443.04 829.44,456.76 829.82,470.16 830.19,482.59 830.57,493.39 830.95,501.9 831.32,507.49 831.7,509.5 832.09,508.72 832.48,506.66 832.86,503.74 833.25,500.4 833.64,497.06 834.02,494.14 834.41,492.08 834.8,491.3 835.17,492 835.53,493.76 835.9,496.05 836.27,498.34 836.63,500.1 837,500.8 837.38,499.06 837.77,494.22 838.15,486.84 838.54,477.48 838.92,466.71 839.31,455.1 839.69,443.2 840.08,431.59 840.46,420.82 840.85,411.46 841.23,404.08 841.62,399.24 842,397.5 842.4,400.66 842.8,409.39 843.2,422.58 843.6,439.11 844,457.87 844.4,477.75 844.8,497.63 845.2,516.39 845.6,532.92 846,546.11 846.4,554.84 846.8,558 847.17,556.01 847.54,550.45 847.91,541.91 848.29,530.98 848.66,518.26 849.03,504.35 849.4,489.85 849.77,475.35 850.14,461.44 850.51,448.72 850.89,437.79 851.26,429.25 851.63,423.69 852,421.7 852.38,422.67 852.76,425.32 853.15,429.3 853.53,434.24 853.91,439.77 854.29,445.54 854.67,451.16 855.05,456.29 855.44,460.54 855.82,463.57 856.2,465 856.6,465.4 857,465.64 857.4,465.89 857.8,466.3 858.18,468.3 858.56,472.88 858.95,479.45 859.33,487.43 859.71,496.23 860.09,505.28 860.47,514 860.85,521.79 861.24,528.07 861.62,532.27 862,533.8 862.38,531.38 862.77,524.66 863.15,514.4 863.54,501.4 863.92,486.45 864.31,470.31 864.69,453.79 865.08,437.65 865.46,422.7 865.85,409.7 866.23,399.44 866.62,392.72 867,390.3 867.38,392.74 867.77,399.54 868.15,409.9 868.54,423.04 868.92,438.15 869.31,454.45 869.69,471.15 870.08,487.45 870.46,502.56 870.85,515.7 871.23,526.06 871.62,532.86 872,535.3 872.39,533.67 872.78,529.18 873.17,522.45 873.56,514.11 873.95,504.76 874.35,495.02 874.74,485.52 875.13,476.87 875.52,469.69 875.91,464.59 876.3,462.2 876.64,461.62 876.98,461.24 877.32,460.93 877.66,460.56 878,460 878.38,458.5 878.75,455.77 879.12,452.13 879.5,447.91 879.88,443.44 880.25,439.04 880.62,435.05 881,431.8 881.38,429.6 881.75,428.8 882.13,430.83 882.52,436.47 882.9,445.08 883.29,455.98 883.67,468.53 884.06,482.07 884.44,495.93 884.83,509.47 885.21,522.02 885.6,532.92 885.98,541.53 886.37,547.17 886.75,549.2 887.13,546.75 887.52,539.93 887.9,529.54 888.29,516.37 888.67,501.22 889.06,484.87 889.44,468.13 889.83,451.78 890.21,436.63 890.6,423.46 890.98,413.07 891.37,406.25 891.75,403.8 892.14,405.44 892.53,410.01 892.93,416.97 893.32,425.79 893.71,435.94 894.1,446.89 894.5,458.11 894.89,469.06 895.28,479.21 895.67,488.03 896.07,494.99 896.46,499.56 896.85,501.2 897.25,500.7 897.65,499.46 898.05,497.85 898.45,496.24 898.85,495 899.25,494.5 899.64,494.93 900.03,496 900.42,497.4 900.82,498.8 901.21,499.87 901.6,500.3 901.99,498.61 902.38,493.91 902.78,486.74 903.17,477.66 903.56,467.2 903.95,455.93 904.35,444.37 904.74,433.1 905.13,422.64 905.52,413.56 905.92,406.39 906.31,401.69 906.7,400 907.09,402.39 907.48,409.03 907.87,419.16 908.25,431.99 908.64,446.76 909.03,462.69 909.42,479.01 909.81,494.94 910.2,509.71 910.58,522.54 910.97,532.67 911.36,539.31 911.75,541.7 912.15,539.75 912.54,534.34 912.94,526.09 913.33,515.62 913.73,503.59 914.13,490.6 914.52,477.3 914.92,464.31 915.32,452.28 915.71,441.81 916.11,433.56 916.5,428.15 916.9,426.2 917.27,426.96 917.63,429.05 918,432.12 918.37,435.87 918.73,439.97 919.1,444.11 919.47,447.95 919.83,451.19 920.2,453.5 920.55,454.88 920.9,455.94 921.25,457.04 921.6,458.5 921.99,461.29 922.38,465.52 922.78,470.9 923.17,477.13 923.56,483.93 923.95,491.01 924.35,498.09 924.74,504.86 925.13,511.06 925.52,516.37 925.92,520.53 926.31,523.23 926.7,524.2 927.08,522.04 927.47,516.04 927.85,506.9 928.24,495.3 928.62,481.96 929.01,467.57 929.39,452.83 929.78,438.44 930.16,425.1 930.55,413.5 930.93,404.36 931.32,398.36 931.7,396.2 932.08,398.3 932.47,404.14 932.85,413.04 933.24,424.33 933.62,437.32 934.01,451.33 934.39,465.67 934.78,479.68 935.16,492.67 935.55,503.96 935.93,512.86 936.32,518.7 936.7,520.8 937.09,519.62 937.48,516.36 937.87,511.44 938.26,505.29 938.65,498.32 939.05,490.96 939.44,483.62 939.83,476.74 940.22,470.73 940.61,466.01 941,463 941.35,461.51 941.7,460.4 942.05,459.35 942.4,458 942.77,455.86 943.15,452.98 943.52,449.57 943.89,445.82 944.26,441.93 944.64,438.1 945.01,434.52 945.38,431.4 945.75,428.92 946.13,427.29 946.5,426.7 946.88,428.54 947.27,433.65 947.65,441.45 948.04,451.33 948.42,462.7 948.81,474.97 949.19,487.53 949.58,499.8 949.96,511.17 950.35,521.05 950.73,528.85 951.12,533.96 951.5,535.8 951.87,533.88 952.24,528.51 952.61,520.26 952.99,509.71 953.36,497.43 953.73,484 954.1,470 954.47,456 954.84,442.57 955.21,430.29 955.59,419.74 955.96,411.49 956.33,406.12 956.7,404.2 957.08,405.55 957.47,409.3 957.85,415.04 958.24,422.34 958.62,430.78 959.01,439.93 959.39,449.37 959.78,458.67 960.16,467.41 960.55,475.17 960.93,481.52 961.32,486.04 961.7,488.3 962.07,489.23 962.45,490.1 962.82,490.9 963.19,491.63 963.56,492.28 963.94,492.84 964.31,493.32 964.68,493.69 965.05,493.97 965.43,494.14 965.8,494.2 966.19,492.88 966.59,489.19 966.98,483.51 967.37,476.26 967.76,467.82 968.16,458.58 968.55,448.95 968.94,439.32 969.34,430.08 969.73,421.64 970.12,414.39 970.51,408.71 970.91,405.02 971.3,403.7 971.67,405.55 972.04,410.71 972.41,418.65 972.79,428.8 973.16,440.61 973.53,453.53 973.9,467 974.27,480.47 974.64,493.39 975.01,505.2 975.39,515.35 975.76,523.29 976.13,528.45 976.5,530.3 976.89,528.83 977.29,524.73 977.68,518.42 978.07,510.36 978.46,500.97 978.86,490.71 979.25,480 979.64,469.29 980.04,459.03 980.43,449.64 980.82,441.58 981.21,435.27 981.61,431.17 982,429.7 982.36,430.15 982.71,431.38 983.07,433.21 983.42,435.48 983.78,437.99 984.13,440.57 984.49,443.06 984.84,445.26 985.2,447 985.53,448.15 985.85,449.11 986.17,450.14 986.5,451.5 986.9,454.46 987.3,459.12 987.7,465.11 988.1,472.06 988.5,479.59 988.9,487.33 989.3,494.9 989.7,501.93 990.1,508.05 990.5,512.88 990.9,516.06 991.3,517.2 991.69,515.51 992.07,510.78 992.46,503.52 992.84,494.22 993.23,483.41 993.61,471.58 994,459.25 994.39,446.92 994.77,435.09 995.16,424.28 995.54,414.98 995.93,407.72 996.31,402.99 996.7,401.3 997.09,403.14 997.48,408.28 997.88,416.1 998.27,426.02 998.66,437.43 999.05,449.75 999.45,462.35 999.84,474.67 1000.23,486.08 1000.62,496 1001.02,503.82 1001.41,508.96 1001.8,510.8 1002.18,509.88 1002.56,507.33 1002.95,503.48 1003.33,498.64 1003.71,493.15 1004.09,487.33 1004.47,481.49 1004.85,475.97 1005.24,471.08 1005.62,467.15 1006,464.5 1006.35,463.05 1006.7,461.96 1007.05,460.89 1007.4,459.5 1007.79,457.05 1008.18,453.59 1008.57,449.43 1008.96,444.86 1009.35,440.18 1009.74,435.69 1010.13,431.68 1010.52,428.44 1010.91,426.29 1011.3,425.5 1011.69,426.39 1012.07,428.95 1012.46,433 1012.84,438.37 1013.23,444.87 1013.61,452.34 1014,460.6 1014.39,469.48 1014.77,478.79 1015.16,488.37 1015.54,498.03 1015.93,507.61 1016.31,516.93 1016.7,525.8"/>
<text class="t" text-anchor="end" x="630.3" y="368.35">15</text>
<text class="t" text-anchor="end" x="630.3" y="401.8">10</text>
<text class="t" text-anchor="end" x="630.3" y="438.05">5</text>
<text class="t" text-anchor="end" x="630.3" y="474.3">0</text>
<text class="t" text-anchor="end" x="630.3" y="510.55">-5</text>
<text class="t" text-anchor="end" x="630.3" y="546.8">-10</text>
<text class="t" text-anchor="end" x="630.3" y="582.15">-15</text>
<text class="t" text-anchor="middle" x="634.7" y="594.7">0</text>
<text class="t" text-anchor="middle" x="671.4" y="594.7">2</text>
<text class="t" text-anchor="middle" x="709.8" y="594.7">4</text>
<text class="t" text-anchor="middle" x="748.2" y="594.7">6</text>
<text class="t" text-anchor="middle" x="786.6" y="594.7">8</text>
<text class="t" text-anchor="middle" x="825.7" y="594.7">10</text>
<text class="t" text-anchor="middle" x="864.1" y="594.7">12</text>
<text class="t" text-anchor="middle" x="902.5" y="594.7">14</text>
<text class="t" text-anchor="middle" x="940.9" y="594.7">16</text>
<text class="t" text-anchor="middle" x="979.3" y="594.7">18</text>
<text class="t" text-anchor="middle" x="1017.7" y="594.7">20</text>
<text class="t" text-anchor="middle" x="826.25" y="610.5">Time <tspan font-style="italic">t</tspan>/s</text>
<text class="t" text-anchor="middle" transform="translate(605.8 469.6) rotate(-90)"><tspan font-style="italic">x</tspan><tspan font-style="italic" font-size="11" dy="3.5">4</tspan><tspan dy="-3.5">/mm</tspan></text>
</g>
<g id="chart-e">
<path class="ax" d="M55.8 758.3V975.8H439.2M55.8 758.3h2.6M55.8 794.55h2.6M55.8 830.8h2.6M55.8 867.05h2.6M55.8 903.3h2.6M55.8 939.55h2.6M55.8 975.8h2.6M55.8 975.8v-2.6M94.14 975.8v-2.6M132.48 975.8v-2.6M170.82 975.8v-2.6M209.16 975.8v-2.6M247.5 975.8v-2.6M285.84 975.8v-2.6M324.18 975.8v-2.6M362.52 975.8v-2.6M400.86 975.8v-2.6M439.2 975.8v-2.6"/>
<polyline class="ln" points="55.9,826 56.23,822.16 56.55,818.33 56.88,815.38 57.2,814.2 57.58,817.3 57.95,825.87 58.33,838.81 58.7,855.03 59.08,873.44 59.45,892.95 59.83,912.46 60.2,930.87 60.58,947.09 60.95,960.03 61.33,968.6 61.7,971.7 62.08,968.17 62.47,958.35 62.85,943.38 63.24,924.4 63.62,902.57 64.01,879.01 64.39,854.89 64.78,831.33 65.16,809.5 65.55,790.52 65.93,775.55 66.32,765.73 66.7,762.2 67.08,765.35 67.45,774.07 67.83,787.25 68.2,803.76 68.58,822.5 68.95,842.35 69.33,862.2 69.7,880.94 70.08,897.45 70.45,910.63 70.83,919.35 71.2,922.5 71.59,920.76 71.98,916.09 72.37,909.33 72.76,901.32 73.14,892.88 73.53,884.87 73.92,878.11 74.31,873.44 74.7,871.7 75.07,873.03 75.44,876.48 75.81,881.19 76.19,886.31 76.56,891.02 76.93,894.47 77.3,895.8 77.67,893.51 78.05,887.19 78.42,877.63 78.8,865.65 79.17,852.05 79.55,837.65 79.92,823.25 80.3,809.65 80.67,797.67 81.05,788.11 81.42,781.79 81.8,779.5 82.19,783.29 82.58,793.76 82.97,809.58 83.37,829.41 83.76,851.91 84.15,875.75 84.54,899.59 84.93,922.09 85.33,941.92 85.72,957.74 86.11,968.21 86.5,972 86.89,968.56 87.28,959.04 87.67,944.66 88.07,926.63 88.46,906.17 88.85,884.5 89.24,862.83 89.63,842.37 90.03,824.34 90.42,809.96 90.81,800.44 91.2,797 91.57,798.8 91.95,803.73 92.32,811.09 92.69,820.2 93.06,830.35 93.44,840.85 93.81,851 94.18,860.11 94.55,867.47 94.93,872.4 95.3,874.2 95.67,873.19 96.03,870.65 96.4,867.35 96.77,864.05 97.13,861.51 97.5,860.5 97.88,862.71 98.26,868.76 98.65,877.81 99.03,888.99 99.41,901.45 99.79,914.35 100.17,926.81 100.55,937.99 100.94,947.04 101.32,953.09 101.7,955.3 102.1,951.57 102.5,941.26 102.9,925.69 103.3,906.17 103.7,884.02 104.1,860.55 104.5,837.08 104.9,814.93 105.3,795.41 105.7,779.84 106.1,769.53 106.5,765.8 106.9,769.42 107.3,779.42 107.7,794.53 108.1,813.48 108.5,834.98 108.9,857.75 109.3,880.52 109.7,902.02 110.1,920.97 110.5,936.08 110.9,946.08 111.3,949.7 111.67,947.58 112.05,941.74 112.42,932.9 112.8,921.83 113.17,909.26 113.55,895.95 113.92,882.64 114.3,870.07 114.67,859 115.05,850.16 115.42,844.32 115.8,842.2 116.16,843.09 116.51,845.39 116.87,848.54 117.23,851.96 117.59,855.11 117.94,857.41 118.3,858.3 118.69,856.96 119.08,853.37 119.47,848.16 119.86,841.99 120.24,835.51 120.63,829.34 121.02,824.13 121.41,820.54 121.8,819.2 122.19,821.94 122.58,829.5 122.97,840.93 123.37,855.26 123.76,871.52 124.15,888.75 124.54,905.98 124.93,922.24 125.33,936.57 125.72,948 126.11,955.56 126.5,958.3 126.88,955.22 127.27,946.65 127.65,933.59 128.04,917.03 128.42,897.98 128.81,877.43 129.19,856.37 129.58,835.82 129.96,816.77 130.35,800.21 130.73,787.15 131.12,778.58 131.5,775.5 131.89,778.13 132.28,785.4 132.68,796.39 133.07,810.16 133.46,825.79 133.85,842.35 134.24,858.91 134.63,874.54 135.02,888.31 135.42,899.3 135.81,906.57 136.2,909.2 136.59,907.84 136.97,904.25 137.36,899.17 137.75,893.35 138.14,887.53 138.53,882.45 138.91,878.86 139.3,877.5 139.66,878.31 140.01,880.41 140.37,883.29 140.73,886.41 141.09,889.29 141.44,891.39 141.8,892.2 142.19,890.13 142.58,884.42 142.98,875.79 143.37,864.98 143.76,852.7 144.15,839.7 144.54,826.7 144.93,814.42 145.32,803.61 145.72,794.98 146.11,789.27 146.5,787.2 146.87,790.05 147.24,798 147.61,810.11 147.98,825.47 148.35,843.13 148.72,862.19 149.08,881.71 149.45,900.77 149.82,918.43 150.19,933.79 150.56,945.9 150.93,953.85 151.3,956.7 151.68,954.19 152.05,947.21 152.43,936.57 152.81,923.08 153.18,907.56 153.56,890.82 153.94,873.68 154.32,856.94 154.69,841.42 155.07,827.93 155.45,817.29 155.82,810.31 156.2,807.8 156.59,809.11 156.98,812.72 157.37,818.1 157.76,824.75 158.15,832.17 158.55,839.83 158.94,847.25 159.33,853.9 159.72,859.28 160.11,862.89 160.5,864.2 160.9,863.58 161.3,862.2 161.7,860.83 162.1,860.2 162.48,861.77 162.86,866.09 163.25,872.54 163.63,880.52 164.01,889.4 164.39,898.6 164.77,907.48 165.15,915.46 165.54,921.91 165.92,926.23 166.3,927.8 166.68,925.28 167.07,918.27 167.45,907.59 167.84,894.05 168.22,878.47 168.61,861.66 168.99,844.44 169.38,827.63 169.76,812.05 170.15,798.51 170.53,787.83 170.92,780.82 171.3,778.3 171.68,780.93 172.05,788.25 172.43,799.4 172.81,813.54 173.18,829.81 173.56,847.36 173.94,865.34 174.32,882.89 174.69,899.16 175.07,913.3 175.45,924.45 175.82,931.77 176.2,934.4 176.58,932.73 176.97,928.11 177.35,921.13 177.73,912.39 178.12,902.46 178.5,891.95 178.88,881.44 179.27,871.51 179.65,862.77 180.03,855.79 180.42,851.17 180.8,849.5 181.18,849.99 181.56,851.15 181.94,852.55 182.32,853.71 182.7,854.2 183.06,853.3 183.42,850.85 183.78,847.24 184.14,842.87 184.5,838.1 184.86,833.33 185.22,828.96 185.58,825.35 185.94,822.9 186.3,822 186.68,824.08 187.05,829.87 187.43,838.7 187.81,849.88 188.18,862.75 188.56,876.64 188.94,890.86 189.32,904.75 189.69,917.62 190.07,928.8 190.45,937.63 190.82,943.42 191.2,945.5 191.58,942.89 191.97,935.62 192.35,924.55 192.74,910.51 193.12,894.35 193.51,876.92 193.89,859.08 194.28,841.65 194.66,825.49 195.05,811.45 195.43,800.38 195.82,793.11 196.2,790.5 196.57,792.32 196.94,797.37 197.31,805.07 197.68,814.84 198.05,826.07 198.42,838.19 198.78,850.61 199.15,862.73 199.52,873.96 199.89,883.73 200.26,891.43 200.63,896.48 201,898.3 201.38,897.62 201.75,895.83 202.12,893.3 202.5,890.4 202.88,887.5 203.25,884.97 203.62,883.18 204,882.5 204.37,883.09 204.73,884.57 205.1,886.5 205.47,888.43 205.83,889.91 206.2,890.5 206.58,888.93 206.97,884.55 207.35,877.89 207.74,869.44 208.12,859.71 208.51,849.22 208.89,838.48 209.28,827.99 209.66,818.26 210.05,809.81 210.43,803.15 210.82,798.77 211.2,797.2 211.57,799.65 211.94,806.46 212.31,816.84 212.68,830 213.05,845.15 213.42,861.48 213.78,878.22 214.15,894.55 214.52,909.7 214.89,922.86 215.26,933.24 215.63,940.05 216,942.5 216.4,940.43 216.8,934.66 217.2,925.87 217.6,914.73 218,901.91 218.4,888.08 218.8,873.92 219.2,860.09 219.6,847.27 220,836.13 220.4,827.34 220.8,821.57 221.2,819.5 221.57,820.35 221.95,822.7 222.32,826.22 222.69,830.6 223.06,835.51 223.44,840.64 223.81,845.66 224.18,850.25 224.55,854.11 224.93,856.9 225.3,858.3 225.64,858.74 225.98,859.02 226.32,859.26 226.66,859.55 227,860 227.38,861.94 227.76,866.15 228.15,872.11 228.53,879.3 228.91,887.21 229.29,895.32 229.67,903.12 230.05,910.08 230.44,915.69 230.82,919.44 231.2,920.8 231.58,918.61 231.97,912.52 232.35,903.23 232.74,891.45 233.12,877.9 233.51,863.29 233.89,848.31 234.28,833.7 234.66,820.15 235.05,808.37 235.43,799.08 235.82,792.99 236.2,790.8 236.58,793.01 236.97,799.17 237.35,808.56 237.74,820.47 238.12,834.16 238.51,848.93 238.89,864.07 239.28,878.84 239.66,892.53 240.05,904.44 240.43,913.83 240.82,919.99 241.2,922.2 241.59,920.73 241.98,916.69 242.37,910.64 242.76,903.11 243.15,894.68 243.55,885.88 243.94,877.27 244.33,869.41 244.72,862.84 245.11,858.12 245.5,855.8 245.84,855.14 246.18,854.7 246.52,854.34 246.86,853.92 247.2,853.3 247.58,851.84 247.96,849.34 248.34,846.1 248.72,842.39 249.1,838.48 249.48,834.66 249.86,831.2 250.24,828.39 250.62,826.49 251,825.8 251.38,827.63 251.77,832.73 252.15,840.49 252.54,850.34 252.92,861.67 253.31,873.89 253.69,886.41 254.08,898.63 254.46,909.96 254.85,919.81 255.23,927.57 255.62,932.67 256,934.5 256.38,932.29 256.77,926.12 257.15,916.72 257.54,904.81 257.92,891.11 258.31,876.32 258.69,861.18 259.08,846.39 259.46,832.69 259.85,820.78 260.23,811.38 260.62,805.21 261,803 261.4,804.49 261.8,808.62 262.2,814.92 262.6,822.91 263,832.11 263.4,842.02 263.8,852.18 264.2,862.09 264.6,871.29 265,879.28 265.4,885.58 265.8,889.71 266.2,891.2 266.56,890.88 266.91,890.07 267.27,888.96 267.63,887.74 267.99,886.63 268.34,885.82 268.7,885.5 269.08,885.83 269.47,886.67 269.85,887.75 270.23,888.83 270.62,889.67 271,890 271.38,888.39 271.77,883.9 272.15,877.05 272.54,868.37 272.92,858.39 273.31,847.62 273.69,836.58 274.08,825.81 274.46,815.83 274.85,807.15 275.23,800.3 275.62,795.81 276,794.2 276.4,796.73 276.8,803.76 277.2,814.48 277.6,828.06 278,843.7 278.4,860.56 278.8,877.84 279.2,894.7 279.6,910.34 280,923.92 280.4,934.64 280.8,941.67 281.2,944.2 281.58,942.14 281.97,936.39 282.35,927.64 282.74,916.54 283.12,903.78 283.51,890 283.89,875.9 284.28,862.12 284.66,849.36 285.05,838.26 285.43,829.51 285.82,823.76 286.2,821.7 286.59,822.53 286.98,824.78 287.37,828.1 287.76,832.15 288.14,836.57 288.53,841.02 288.92,845.14 289.31,848.58 289.7,851 290.02,852.24 290.35,853.19 290.68,854.16 291,855.5 291.37,858.25 291.74,862.59 292.11,868.22 292.48,874.8 292.85,882.03 293.22,889.59 293.58,897.17 293.95,904.45 294.32,911.12 294.69,916.85 295.06,921.33 295.43,924.26 295.8,925.3 296.2,923.02 296.6,916.66 297,906.97 297.4,894.69 297.8,880.55 298.2,865.31 298.6,849.69 299,834.45 299.4,820.31 299.8,808.03 300.2,798.34 300.6,791.98 301,789.7 301.4,791.93 301.8,798.14 302.2,807.61 302.6,819.61 303,833.42 303.4,848.32 303.8,863.58 304.2,878.48 304.6,892.29 305,904.29 305.4,913.76 305.8,919.97 306.2,922.2 306.6,920.69 307,916.55 307.4,910.39 307.8,902.8 308.2,894.39 308.6,885.76 309,877.5 309.4,870.22 309.8,864.52 310.2,861 310.52,859.5 310.85,858.39 311.18,857.34 311.5,856 311.88,853.66 312.26,850.53 312.65,846.82 313.03,842.75 313.41,838.52 313.79,834.37 314.17,830.48 314.55,827.09 314.94,824.41 315.32,822.64 315.7,822 316.08,823.95 316.47,829.39 316.85,837.68 317.24,848.19 317.62,860.28 318.01,873.32 318.39,886.68 318.78,899.72 319.16,911.81 319.55,922.32 319.93,930.61 320.32,936.05 320.7,938 321.09,935.73 321.48,929.42 321.88,919.79 322.27,907.59 322.66,893.55 323.05,878.41 323.45,862.89 323.84,847.75 324.23,833.71 324.62,821.51 325.02,811.88 325.41,805.57 325.8,803.3 326.18,804.69 326.57,808.57 326.95,814.51 327.34,822.06 327.72,830.77 328.11,840.23 328.49,849.97 328.88,859.57 329.26,868.59 329.65,876.58 330.03,883.1 330.42,887.72 330.8,890 331.18,890.92 331.56,891.78 331.95,892.57 332.33,893.29 332.71,893.92 333.09,894.48 333.47,894.94 333.85,895.31 334.24,895.58 334.62,895.74 335,895.8 335.39,894.44 335.79,890.64 336.18,884.81 336.57,877.34 336.96,868.66 337.36,859.16 337.75,849.25 338.14,839.34 338.54,829.84 338.93,821.16 339.32,813.69 339.71,807.86 340.11,804.06 340.5,802.7 340.9,804.89 341.3,810.97 341.7,820.25 342.1,832 342.5,845.53 342.9,860.13 343.3,875.07 343.7,889.67 344.1,903.2 344.5,914.95 344.9,924.23 345.3,930.31 345.7,932.5 346.09,931 346.49,926.79 346.88,920.34 347.27,912.08 347.66,902.47 348.06,891.96 348.45,881 348.84,870.04 349.24,859.53 349.63,849.92 350.02,841.66 350.41,835.21 350.81,831 351.2,829.5 351.59,830.03 351.98,831.47 352.37,833.61 352.76,836.24 353.14,839.16 353.53,842.16 353.92,845.02 354.31,847.54 354.7,849.5 355.02,850.66 355.35,851.61 355.68,852.63 356,854 356.38,856.87 356.75,861.47 357.12,867.41 357.5,874.33 357.88,881.84 358.25,889.58 358.62,897.15 359,904.19 359.38,910.33 359.75,915.17 360.12,918.36 360.5,919.5 360.88,917.76 361.26,912.9 361.64,905.43 362.01,895.87 362.39,884.75 362.77,872.58 363.15,859.9 363.53,847.22 363.91,835.05 364.29,823.93 364.66,814.37 365.04,806.9 365.42,802.04 365.8,800.3 366.18,802.2 366.57,807.48 366.95,815.54 367.34,825.74 367.72,837.49 368.11,850.16 368.49,863.14 368.88,875.81 369.26,887.56 369.65,897.76 370.03,905.82 370.42,911.1 370.8,913 371.17,912.1 371.55,909.62 371.92,905.86 372.29,901.14 372.66,895.78 373.04,890.08 373.41,884.36 373.78,878.92 374.15,874.1 374.53,870.18 374.9,867.5 375.22,866.06 375.55,864.95 375.88,863.87 376.2,862.5 376.59,860.02 376.98,856.65 377.37,852.62 377.76,848.17 378.15,843.53 378.55,838.96 378.94,834.68 379.33,830.93 379.72,827.96 380.11,826.01 380.5,825.3 380.88,827.04 381.27,831.89 381.65,839.28 382.04,848.64 382.42,859.42 382.81,871.05 383.19,882.95 383.58,894.58 383.96,905.36 384.35,914.72 384.73,922.11 385.12,926.96 385.5,928.7 385.88,927.02 386.26,922.31 386.64,915.07 387.01,905.82 387.39,895.06 387.77,883.28 388.15,871 388.53,858.72 388.91,846.94 389.29,836.18 389.66,826.93 390.04,819.69 390.42,814.98 390.8,813.3 391.18,814.38 391.57,817.42 391.95,822.07 392.34,828.01 392.72,834.91 393.11,842.43 393.49,850.26 393.88,858.05 394.26,865.48 394.65,872.22 395.03,877.94 395.42,882.31 395.8,885 396.19,886.73 396.58,888.38 396.97,889.92 397.36,891.34 397.75,892.6 398.14,893.69 398.53,894.58 398.92,895.24 399.31,895.66 399.7,895.8 400.07,894.71 400.45,891.65 400.82,886.91 401.19,880.8 401.57,873.63 401.94,865.7 402.31,857.32 402.69,848.78 403.06,840.4 403.43,832.47 403.81,825.3 404.18,819.19 404.55,814.45 404.93,811.39 405.3,810.3 405.7,812.42 406.1,818.33 406.5,827.33 406.9,838.75 407.3,851.88 407.7,866.05 408.1,880.55 408.5,894.72 408.9,907.85 409.3,919.27 409.7,928.27 410.1,934.18 410.5,936.3 410.89,935 411.27,931.35 411.66,925.71 412.05,918.44 412.43,909.91 412.82,900.47 413.21,890.48 413.59,880.32 413.98,870.33 414.37,860.89 414.75,852.36 415.14,845.09 415.53,839.45 415.91,835.8 416.3,834.5 416.69,834.91 417.07,836.03 417.46,837.67 417.85,839.65 418.24,841.81 418.62,843.95 419.01,845.91 419.4,847.5 419.72,848.48 420.05,849.32 420.38,850.25 420.7,851.5 421.08,854.45 421.47,859.48 421.85,866.14 422.23,873.99 422.62,882.59 423,891.49 423.38,900.24 423.77,908.4 424.15,915.52 424.53,921.16 424.92,924.86 425.3,926.2 425.69,924.43 426.07,919.46 426.46,911.83 426.84,902.07 427.23,890.72 427.61,878.3 428,865.35 428.39,852.4 428.77,839.98 429.16,828.63 429.54,818.87 429.93,811.24 430.31,806.27 430.7,804.5 431.09,806.38 431.48,811.62 431.88,819.61 432.27,829.74 432.66,841.39 433.05,853.96 433.45,866.84 433.84,879.41 434.23,891.06 434.62,901.19 435.02,909.18 435.41,914.42 435.8,916.3 436.18,915.67 436.56,913.93 436.93,911.26 437.31,907.85 437.69,903.92 438.07,899.64 438.44,895.21 438.82,890.83 439.2,886.7"/>
<text class="t" text-anchor="end" x="53.6" y="766.65">9</text>
<text class="t" text-anchor="end" x="53.6" y="800.1">6</text>
<text class="t" text-anchor="end" x="53.6" y="836.35">3</text>
<text class="t" text-anchor="end" x="53.6" y="872.6">0</text>
<text class="t" text-anchor="end" x="53.6" y="908.85">-3</text>
<text class="t" text-anchor="end" x="53.6" y="945.1">-6</text>
<text class="t" text-anchor="end" x="53.6" y="980.45">-9</text>
<text class="t" text-anchor="middle" x="57.8" y="993">0</text>
<text class="t" text-anchor="middle" x="94.44" y="993">2</text>
<text class="t" text-anchor="middle" x="132.78" y="993">4</text>
<text class="t" text-anchor="middle" x="171.12" y="993">6</text>
<text class="t" text-anchor="middle" x="209.46" y="993">8</text>
<text class="t" text-anchor="middle" x="248.5" y="993">10</text>
<text class="t" text-anchor="middle" x="286.84" y="993">12</text>
<text class="t" text-anchor="middle" x="325.18" y="993">14</text>
<text class="t" text-anchor="middle" x="363.52" y="993">16</text>
<text class="t" text-anchor="middle" x="401.86" y="993">18</text>
<text class="t" text-anchor="middle" x="440.2" y="993">20</text>
<text class="t" text-anchor="middle" x="249.5" y="1008.8">Time <tspan font-style="italic">t</tspan>/s</text>
<text class="t" text-anchor="middle" transform="translate(34.7 868) rotate(-90)"><tspan font-style="italic">x</tspan><tspan font-style="italic" font-size="11" dy="3.5">5</tspan><tspan dy="-3.5">/mm</tspan></text>
</g>
<g id="chart-f">
<path class="ax" d="M619.5 758.2V976.2H1003.3M619.5 758.3h2.6M619.5 816h2.6M619.5 866.9h2.6M619.5 921.8h2.6M619.5 976.2h2.6M619.5 976.2v-2.6M657.88 976.2v-2.6M696.26 976.2v-2.6M734.64 976.2v-2.6M773.02 976.2v-2.6M811.4 976.2v-2.6M849.78 976.2v-2.6M888.16 976.2v-2.6M926.54 976.2v-2.6M964.92 976.2v-2.6M1003.3 976.2v-2.6"/>
<polyline class="ln" points="619.5,758.8 619.88,760.44 620.27,765.33 620.65,773.3 621.03,784.11 621.42,797.45 621.8,812.9 622.18,829.99 622.57,848.21 622.95,867 623.33,885.79 623.72,904.01 624.1,921.1 624.48,936.55 624.87,949.89 625.25,960.7 625.63,968.67 626.02,973.56 626.4,975.2 626.79,973.38 627.19,967.98 627.58,959.18 627.98,947.29 628.37,932.7 628.76,915.92 629.16,897.52 629.55,878.12 629.95,858.38 630.34,838.98 630.74,820.58 631.13,803.8 631.52,789.21 631.92,777.32 632.31,768.52 632.71,763.12 633.1,761.3 633.49,763.34 633.88,769.37 634.26,779.16 634.65,792.35 635.04,808.41 635.42,826.74 635.81,846.62 636.2,867.3 636.59,887.98 636.98,907.86 637.36,926.19 637.75,942.25 638.14,955.44 638.52,965.23 638.91,971.26 639.3,973.3 639.69,971.51 640.09,966.21 640.48,957.57 640.88,945.9 641.27,931.58 641.66,915.1 642.06,897.03 642.45,877.99 642.85,858.61 643.24,839.57 643.64,821.5 644.03,805.02 644.42,790.7 644.82,779.03 645.21,770.39 645.61,765.09 646,763.3 646.38,765.08 646.76,770.34 647.15,778.91 647.53,790.51 647.91,804.73 648.29,821.08 648.68,839.02 649.06,857.93 649.44,877.17 649.82,896.08 650.21,914.02 650.59,930.37 650.97,944.59 651.35,956.19 651.74,964.76 652.12,970.02 652.5,971.8 652.88,970.04 653.26,964.8 653.65,956.28 654.03,944.76 654.41,930.63 654.79,914.38 655.18,896.55 655.56,877.76 655.94,858.64 656.32,839.85 656.71,822.02 657.09,805.77 657.47,791.64 657.85,780.12 658.24,771.6 658.62,766.36 659,764.6 659.39,766.57 659.79,772.42 660.18,781.92 660.58,794.69 660.97,810.27 661.36,828.03 661.76,847.3 662.15,867.35 662.54,887.4 662.94,906.67 663.33,924.43 663.72,940.01 664.12,952.78 664.51,962.28 664.91,968.13 665.3,970.1 665.69,968.37 666.08,963.22 666.46,954.84 666.85,943.52 667.24,929.63 667.63,913.65 668.02,896.12 668.41,877.65 668.79,858.85 669.18,840.38 669.57,822.85 669.96,806.87 670.35,792.98 670.74,781.66 671.12,773.28 671.51,768.13 671.9,766.4 672.28,768.12 672.66,773.21 673.05,781.51 673.43,792.72 673.81,806.47 674.19,822.3 674.58,839.65 674.96,857.94 675.34,876.56 675.72,894.85 676.11,912.2 676.49,928.03 676.87,941.78 677.25,952.99 677.64,961.29 678.02,966.38 678.4,968.1 678.79,966.4 679.19,961.34 679.58,953.11 679.98,941.99 680.37,928.34 680.76,912.65 681.16,895.43 681.55,877.28 681.95,858.82 682.34,840.67 682.74,823.45 683.13,807.76 683.52,794.11 683.92,782.99 684.31,774.76 684.71,769.7 685.1,768 685.48,769.69 685.86,774.69 686.25,782.83 686.63,793.84 687.01,807.34 687.39,822.87 687.78,839.91 688.16,857.87 688.54,876.13 688.92,894.09 689.31,911.13 689.69,926.66 690.07,940.16 690.45,951.17 690.84,959.31 691.22,964.31 691.6,966 691.99,964.12 692.39,958.54 692.78,949.48 693.17,937.28 693.57,922.42 693.96,905.47 694.36,887.08 694.75,867.95 695.14,848.82 695.54,830.43 695.93,813.48 696.33,798.62 696.72,786.42 697.11,777.36 697.51,771.78 697.9,769.9 698.28,771.56 698.66,776.47 699.05,784.47 699.43,795.28 699.81,808.54 700.19,823.8 700.58,840.54 700.96,858.18 701.34,876.12 701.72,893.76 702.11,910.5 702.49,925.76 702.87,939.02 703.25,949.83 703.64,957.83 704.02,962.74 704.4,964.4 704.79,962.76 705.18,957.88 705.56,949.94 705.95,939.2 706.34,926.03 706.73,910.89 707.12,894.27 707.51,876.76 707.89,858.94 708.28,841.43 708.67,824.81 709.06,809.67 709.45,796.5 709.84,785.76 710.22,777.82 710.61,772.94 711,771.3 711.38,772.94 711.76,777.79 712.15,785.7 712.53,796.39 712.91,809.51 713.29,824.59 713.68,841.14 714.06,858.58 714.44,876.32 714.82,893.76 715.21,910.31 715.59,925.39 715.97,938.51 716.35,949.2 716.74,957.11 717.12,961.96 717.5,963.6 717.89,961.97 718.29,957.14 718.68,949.27 719.08,938.64 719.47,925.59 719.86,910.58 720.26,894.13 720.65,876.78 721.05,859.12 721.44,841.77 721.84,825.32 722.23,810.31 722.62,797.26 723.02,786.63 723.41,778.76 723.81,773.93 724.2,772.3 724.59,774.13 724.99,779.54 725.38,788.34 725.78,800.17 726.17,814.59 726.56,831.04 726.96,848.89 727.35,867.45 727.74,886.01 728.14,903.86 728.53,920.31 728.92,934.73 729.32,946.56 729.71,955.36 730.11,960.77 730.5,962.6 730.88,960.99 731.26,956.21 731.65,948.42 732.03,937.9 732.41,924.99 732.79,910.14 733.18,893.85 733.56,876.68 733.94,859.22 734.32,842.05 734.71,825.76 735.09,810.91 735.47,798 735.85,787.48 736.24,779.69 736.62,774.91 737,773.3 737.4,775.11 737.8,780.45 738.2,789.13 738.6,800.82 739,815.05 739.4,831.3 739.8,848.92 740.2,867.25 740.6,885.58 741,903.2 741.4,919.45 741.8,933.68 742.2,945.37 742.6,954.05 743,959.39 743.4,961.2 743.78,959.78 744.17,955.58 744.55,948.71 744.93,939.4 745.32,927.91 745.7,914.6 746.08,899.88 746.47,884.18 746.85,868 747.23,851.82 747.62,836.12 748,821.4 748.38,808.09 748.77,796.6 749.15,787.29 749.53,780.42 749.92,776.22 750.3,774.8 750.68,776.58 751.06,781.84 751.44,790.39 751.82,801.89 752.21,815.91 752.59,831.9 752.97,849.25 753.35,867.3 753.73,885.35 754.11,902.7 754.49,918.69 754.88,932.71 755.26,944.21 755.64,952.76 756.02,958.02 756.4,959.8 756.79,958.24 757.19,953.59 757.58,946.03 757.98,935.81 758.37,923.28 758.76,908.86 759.16,893.05 759.55,876.38 759.95,859.42 760.34,842.75 760.74,826.94 761.13,812.52 761.52,799.99 761.92,789.77 762.31,782.21 762.71,777.56 763.1,776 763.48,777.55 763.86,782.17 764.25,789.68 764.63,799.83 765.01,812.28 765.39,826.6 765.78,842.31 766.16,858.88 766.54,875.72 766.92,892.29 767.31,908 767.69,922.32 768.07,934.77 768.45,944.92 768.84,952.43 769.22,957.05 769.6,958.6 769.99,957.06 770.38,952.48 770.76,945.01 771.15,934.93 771.54,922.56 771.93,908.33 772.32,892.72 772.71,876.27 773.09,859.53 773.48,843.08 773.87,827.47 774.26,813.24 774.65,800.87 775.04,790.79 775.42,783.32 775.81,778.74 776.2,777.2 776.59,778.94 776.98,784.09 777.36,792.46 777.75,803.72 778.14,817.44 778.52,833.1 778.91,850.08 779.3,867.75 779.69,885.42 780.08,902.4 780.46,918.06 780.85,931.78 781.24,943.04 781.62,951.41 782.01,956.56 782.4,958.3 782.79,956.77 783.18,952.22 783.56,944.81 783.95,934.8 784.34,922.52 784.73,908.39 785.12,892.89 785.51,876.56 785.89,859.94 786.28,843.61 786.67,828.11 787.06,813.98 787.45,801.7 787.84,791.69 788.22,784.28 788.61,779.73 789,778.2 789.39,779.73 789.78,784.25 790.16,791.62 790.55,801.58 790.94,813.8 791.33,827.86 791.72,843.28 792.11,859.53 792.49,876.07 792.88,892.32 793.27,907.74 793.66,921.8 794.05,934.02 794.44,943.98 794.82,951.35 795.21,955.87 795.6,957.4 795.99,955.88 796.38,951.35 796.76,943.99 797.15,934.03 797.54,921.82 797.93,907.77 798.32,892.36 798.71,876.11 799.09,859.59 799.48,843.34 799.87,827.93 800.26,813.88 800.65,801.67 801.04,791.71 801.42,784.35 801.81,779.82 802.2,778.3 802.59,779.82 802.99,784.35 803.38,791.71 803.78,801.67 804.17,813.88 804.56,827.93 804.96,843.34 805.35,859.59 805.75,876.11 806.14,892.36 806.54,907.77 806.93,921.82 807.32,934.03 807.72,943.99 808.11,951.35 808.51,955.88 808.9,957.4 809.29,955.88 809.69,951.35 810.08,943.99 810.48,934.03 810.87,921.82 811.26,907.77 811.66,892.36 812.05,876.11 812.45,859.59 812.84,843.34 813.24,827.93 813.63,813.88 814.02,801.67 814.42,791.71 814.81,784.35 815.21,779.82 815.6,778.3 815.99,779.82 816.38,784.35 816.76,791.71 817.15,801.67 817.54,813.88 817.93,827.93 818.32,843.34 818.71,859.59 819.09,876.11 819.48,892.36 819.87,907.77 820.26,921.82 820.65,934.03 821.04,943.99 821.42,951.35 821.81,955.88 822.2,957.4 822.59,955.88 822.99,951.35 823.38,943.99 823.78,934.03 824.17,921.82 824.56,907.77 824.96,892.36 825.35,876.11 825.75,859.59 826.14,843.34 826.54,827.93 826.93,813.88 827.32,801.67 827.72,791.71 828.11,784.35 828.51,779.82 828.9,778.3 829.29,779.82 829.69,784.35 830.08,791.71 830.48,801.67 830.87,813.88 831.26,827.93 831.66,843.34 832.05,859.59 832.45,876.11 832.84,892.36 833.24,907.77 833.63,921.82 834.02,934.03 834.42,943.99 834.81,951.35 835.21,955.88 835.6,957.4 835.99,955.88 836.38,951.35 836.76,943.99 837.15,934.03 837.54,921.82 837.93,907.77 838.32,892.36 838.71,876.11 839.09,859.59 839.48,843.34 839.87,827.93 840.26,813.88 840.65,801.67 841.04,791.71 841.42,784.35 841.81,779.82 842.2,778.3 842.59,779.82 842.99,784.35 843.38,791.71 843.78,801.67 844.17,813.88 844.56,827.93 844.96,843.34 845.35,859.59 845.75,876.11 846.14,892.36 846.54,907.77 846.93,921.82 847.32,934.03 847.72,943.99 848.11,951.35 848.51,955.88 848.9,957.4 849.29,955.88 849.69,951.35 850.08,943.99 850.48,934.03 850.87,921.82 851.26,907.77 851.66,892.36 852.05,876.11 852.45,859.59 852.84,843.34 853.24,827.93 853.63,813.88 854.02,801.67 854.42,791.71 854.81,784.35 855.21,779.82 855.6,778.3 855.99,779.82 856.38,784.35 856.76,791.71 857.15,801.67 857.54,813.88 857.93,827.93 858.32,843.34 858.71,859.59 859.09,876.11 859.48,892.36 859.87,907.77 860.26,921.82 860.65,934.03 861.04,943.99 861.42,951.35 861.81,955.88 862.2,957.4 862.59,955.88 862.99,951.35 863.38,943.99 863.78,934.03 864.17,921.82 864.56,907.77 864.96,892.36 865.35,876.11 865.75,859.59 866.14,843.34 866.54,827.93 866.93,813.88 867.32,801.67 867.72,791.71 868.11,784.35 868.51,779.82 868.9,778.3 869.29,779.82 869.69,784.35 870.08,791.71 870.48,801.67 870.87,813.88 871.26,827.93 871.66,843.34 872.05,859.59 872.45,876.11 872.84,892.36 873.24,907.77 873.63,921.82 874.02,934.03 874.42,943.99 874.81,951.35 875.21,955.88 875.6,957.4 875.99,955.88 876.38,951.35 876.76,943.99 877.15,934.03 877.54,921.82 877.93,907.77 878.32,892.36 878.71,876.11 879.09,859.59 879.48,843.34 879.87,827.93 880.26,813.88 880.65,801.67 881.04,791.71 881.42,784.35 881.81,779.82 882.2,778.3 882.59,779.82 882.99,784.35 883.38,791.71 883.78,801.67 884.17,813.88 884.56,827.93 884.96,843.34 885.35,859.59 885.75,876.11 886.14,892.36 886.54,907.77 886.93,921.82 887.32,934.03 887.72,943.99 888.11,951.35 888.51,955.88 888.9,957.4 889.29,955.88 889.69,951.35 890.08,943.99 890.48,934.03 890.87,921.82 891.26,907.77 891.66,892.36 892.05,876.11 892.45,859.59 892.84,843.34 893.24,827.93 893.63,813.88 894.02,801.67 894.42,791.71 894.81,784.35 895.21,779.82 895.6,778.3 896,779.82 896.4,784.35 896.8,791.71 897.2,801.67 897.6,813.88 898,827.93 898.4,843.34 898.8,859.59 899.2,876.11 899.6,892.36 900,907.77 900.4,921.82 900.8,934.03 901.2,943.99 901.6,951.35 902,955.88 902.4,957.4 902.78,955.88 903.16,951.35 903.55,943.99 903.93,934.03 904.31,921.82 904.69,907.77 905.08,892.36 905.46,876.11 905.84,859.59 906.22,843.34 906.61,827.93 906.99,813.88 907.37,801.67 907.75,791.71 908.14,784.35 908.52,779.82 908.9,778.3 909.28,779.66 909.67,783.7 910.05,790.3 910.43,799.25 910.82,810.29 911.2,823.07 911.58,837.22 911.97,852.3 912.35,867.85 912.73,883.4 913.12,898.48 913.5,912.62 913.88,925.41 914.27,936.45 914.65,945.4 915.03,952 915.42,956.04 915.8,957.4 916.18,955.88 916.55,951.35 916.93,943.99 917.31,934.03 917.68,921.82 918.06,907.77 918.44,892.36 918.81,876.11 919.19,859.59 919.56,843.34 919.94,827.93 920.32,813.88 920.69,801.67 921.07,791.71 921.45,784.35 921.82,779.82 922.2,778.3 922.58,779.66 922.97,783.7 923.35,790.3 923.73,799.25 924.12,810.29 924.5,823.07 924.88,837.22 925.27,852.3 925.65,867.85 926.03,883.4 926.42,898.48 926.8,912.62 927.18,925.41 927.57,936.45 927.95,945.4 928.33,952 928.72,956.04 929.1,957.4 929.48,955.88 929.86,951.35 930.25,943.99 930.63,934.03 931.01,921.82 931.39,907.77 931.78,892.36 932.16,876.11 932.54,859.59 932.92,843.34 933.31,827.93 933.69,813.88 934.07,801.67 934.45,791.71 934.84,784.35 935.22,779.82 935.6,778.3 936,779.82 936.4,784.35 936.8,791.71 937.2,801.67 937.6,813.88 938,827.93 938.4,843.34 938.8,859.59 939.2,876.11 939.6,892.36 940,907.77 940.4,921.82 940.8,934.03 941.2,943.99 941.6,951.35 942,955.88 942.4,957.4 942.79,955.88 943.19,951.35 943.58,943.99 943.98,934.03 944.37,921.82 944.76,907.77 945.16,892.36 945.55,876.11 945.95,859.59 946.34,843.34 946.74,827.93 947.13,813.88 947.52,801.67 947.92,791.71 948.31,784.35 948.71,779.82 949.1,778.3 949.48,779.66 949.87,783.7 950.25,790.3 950.63,799.25 951.02,810.29 951.4,823.07 951.78,837.22 952.17,852.3 952.55,867.85 952.93,883.4 953.32,898.48 953.7,912.62 954.08,925.41 954.47,936.45 954.85,945.4 955.23,952 955.62,956.04 956,957.4 956.4,955.68 956.8,950.58 957.2,942.31 957.6,931.17 958,917.6 958.4,902.12 958.8,885.32 959.2,867.85 959.6,850.38 960,833.58 960.4,818.1 960.8,804.53 961.2,793.39 961.6,785.12 962,780.02 962.4,778.3 962.78,779.66 963.17,783.7 963.55,790.3 963.93,799.25 964.32,810.29 964.7,823.07 965.08,837.22 965.47,852.3 965.85,867.85 966.23,883.4 966.62,898.48 967,912.62 967.38,925.41 967.77,936.45 968.15,945.4 968.53,952 968.92,956.04 969.3,957.4 969.69,955.88 970.09,951.35 970.48,943.99 970.88,934.03 971.27,921.82 971.66,907.77 972.06,892.36 972.45,876.11 972.85,859.59 973.24,843.34 973.64,827.93 974.03,813.88 974.42,801.67 974.82,791.71 975.21,784.35 975.61,779.82 976,778.3 976.39,779.82 976.79,784.35 977.18,791.71 977.58,801.67 977.97,813.88 978.36,827.93 978.76,843.34 979.15,859.59 979.55,876.11 979.94,892.36 980.34,907.77 980.73,921.82 981.12,934.03 981.52,943.99 981.91,951.35 982.31,955.88 982.7,957.4 983.09,955.88 983.48,951.35 983.86,943.99 984.25,934.03 984.64,921.82 985.03,907.77 985.42,892.36 985.81,876.11 986.19,859.59 986.58,843.34 986.97,827.93 987.36,813.88 987.75,801.67 988.14,791.71 988.52,784.35 988.91,779.82 989.3,778.3 989.68,779.66 990.07,783.7 990.45,790.3 990.83,799.25 991.22,810.29 991.6,823.07 991.98,837.22 992.37,852.3 992.75,867.85 993.13,883.4 993.52,898.48 993.9,912.62 994.28,925.41 994.67,936.45 995.05,945.4 995.43,952 995.82,956.04 996.2,957.4 996.59,955.88 996.99,951.35 997.38,943.99 997.78,934.03 998.17,921.82 998.56,907.77 998.96,892.36 999.35,876.11 999.75,859.59 1000.14,843.34 1000.54,827.93 1000.93,813.88 1001.32,801.67 1001.72,791.71 1002.11,784.35 1002.51,779.82 1002.9,778.3 1003.15,781.65 1003.4,785"/>
<text class="t" text-anchor="end" x="618" y="766.65">10</text>
<text class="t" text-anchor="end" x="618" y="821.55">5</text>
<text class="t" text-anchor="end" x="618" y="872.45">0</text>
<text class="t" text-anchor="end" x="618" y="927.35">-5</text>
<text class="t" text-anchor="end" x="618" y="980.45">-10</text>
<text class="t" text-anchor="middle" x="621.5" y="993.4">0</text>
<text class="t" text-anchor="middle" x="658.18" y="993.4">2</text>
<text class="t" text-anchor="middle" x="696.56" y="993.4">4</text>
<text class="t" text-anchor="middle" x="734.94" y="993.4">6</text>
<text class="t" text-anchor="middle" x="773.32" y="993.4">8</text>
<text class="t" text-anchor="middle" x="812.4" y="993.4">10</text>
<text class="t" text-anchor="middle" x="850.78" y="993.4">12</text>
<text class="t" text-anchor="middle" x="889.16" y="993.4">14</text>
<text class="t" text-anchor="middle" x="927.54" y="993.4">16</text>
<text class="t" text-anchor="middle" x="965.92" y="993.4">18</text>
<text class="t" text-anchor="middle" x="1004.3" y="993.4">20</text>
<text class="t" text-anchor="middle" x="812.5" y="1009.2">Time <tspan font-style="italic">t</tspan>/s</text>
<text class="t" text-anchor="middle" transform="translate(594 867.7) rotate(-90)"><tspan font-style="italic">x</tspan><tspan font-style="italic" font-size="11" dy="3.5">6</tspan><tspan dy="-3.5">/mm</tspan></text>
</g>
<g id="chart-g">
<path class="ax" d="M60.5 1135.3V1353.2H444.5M60.5 1135.4h2.6M60.5 1193h2.6M60.5 1244.1h2.6M60.5 1299.3h2.6M60.5 1353.2h2.6M60.5 1353.2v-2.6M98.9 1353.2v-2.6M137.3 1353.2v-2.6M175.7 1353.2v-2.6M214.1 1353.2v-2.6M252.5 1353.2v-2.6M290.9 1353.2v-2.6M329.3 1353.2v-2.6M367.7 1353.2v-2.6M406.1 1353.2v-2.6M444.5 1353.2v-2.6"/>
<polyline class="ln" points="60.8,1233.3 61.16,1216.69 61.51,1199.12 61.87,1181.87 62.23,1166.22 62.59,1153.45 62.94,1144.85 63.3,1141.7 63.7,1147.61 64.1,1163.65 64.5,1187.3 64.9,1216.01 65.3,1247.25 65.7,1278.49 66.1,1307.2 66.5,1330.85 66.9,1346.89 67.3,1352.8 67.67,1348.95 68.03,1338.3 68.4,1322.21 68.77,1302.04 69.13,1279.15 69.5,1254.9 69.87,1230.65 70.23,1207.76 70.6,1187.59 70.97,1171.5 71.33,1160.85 71.7,1157 72.07,1160.58 72.43,1170.16 72.8,1184.04 73.17,1200.49 73.53,1217.81 73.9,1234.26 74.27,1248.14 74.63,1257.72 75,1261.3 75.4,1259.26 75.8,1254.4 76.2,1248.6 76.6,1243.74 77,1241.7 77.39,1244.56 77.78,1252.21 78.17,1263.3 78.56,1276.44 78.94,1290.26 79.33,1303.4 79.72,1314.49 80.11,1322.14 80.5,1325 80.88,1320.61 81.26,1308.59 81.65,1290.62 82.03,1268.41 82.41,1243.65 82.79,1218.05 83.17,1193.29 83.55,1171.08 83.94,1153.11 84.32,1141.09 84.7,1136.7 85.1,1142.47 85.5,1158.13 85.9,1181.22 86.3,1209.25 86.7,1239.75 87.1,1270.25 87.5,1298.28 87.9,1321.37 88.3,1337.03 88.7,1342.8 89.1,1338.53 89.5,1327.09 89.9,1310.52 90.3,1290.88 90.7,1270.22 91.1,1250.58 91.5,1234.01 91.9,1222.57 92.3,1218.3 92.64,1219.55 92.99,1222.76 93.33,1227.16 93.67,1231.94 94.01,1236.34 94.36,1239.55 94.7,1240.8 95.08,1238.94 95.45,1234.03 95.83,1227.1 96.2,1219.15 96.58,1211.2 96.95,1204.27 97.33,1199.36 97.7,1197.5 98.08,1201.78 98.46,1213.39 98.84,1230.5 99.22,1251.29 99.6,1273.9 99.98,1296.51 100.36,1317.3 100.74,1334.41 101.12,1346.02 101.5,1350.3 101.88,1345.62 102.26,1332.8 102.65,1313.64 103.03,1289.95 103.41,1263.55 103.79,1236.25 104.17,1209.85 104.55,1186.16 104.94,1167 105.32,1154.18 105.7,1149.5 106.1,1153.69 106.5,1165.07 106.9,1181.84 107.3,1202.19 107.7,1224.35 108.1,1246.51 108.5,1266.86 108.9,1283.63 109.3,1295.01 109.7,1299.2 110.1,1297.01 110.5,1291.37 110.9,1283.65 111.3,1275.25 111.7,1267.53 112.1,1261.89 112.5,1259.7 112.87,1260.96 113.23,1264.11 113.6,1268.2 113.97,1272.29 114.33,1275.44 114.7,1276.7 115.1,1273.21 115.5,1263.75 115.9,1249.81 116.3,1232.88 116.7,1214.45 117.1,1196.02 117.5,1179.09 117.9,1165.15 118.3,1155.69 118.7,1152.2 119.07,1156.8 119.45,1169.4 119.82,1188.22 120.19,1211.49 120.56,1237.43 120.94,1264.27 121.31,1290.21 121.68,1313.48 122.05,1332.3 122.43,1344.9 122.8,1349.5 123.18,1345.4 123.56,1334.14 123.95,1317.33 124.33,1296.55 124.71,1273.38 125.09,1249.42 125.47,1226.25 125.85,1205.47 126.24,1188.66 126.62,1177.4 127,1173.3 127.39,1175.75 127.78,1182.31 128.17,1191.81 128.56,1203.07 128.94,1214.93 129.33,1226.19 129.72,1235.69 130.11,1242.25 130.5,1244.7 130.84,1243.95 131.18,1242.17 131.52,1240.03 131.86,1238.25 132.2,1237.5 132.56,1239.64 132.92,1245.44 133.28,1253.98 133.64,1264.36 134,1275.65 134.36,1286.94 134.72,1297.32 135.08,1305.86 135.44,1311.66 135.8,1313.8 136.2,1308.96 136.6,1295.81 137,1276.43 137.4,1252.9 137.8,1227.3 138.2,1201.7 138.6,1178.17 139,1158.79 139.4,1145.64 139.8,1140.8 140.18,1145.08 140.56,1156.81 140.95,1174.34 141.33,1196.01 141.71,1220.16 142.09,1245.14 142.47,1269.29 142.85,1290.96 143.24,1308.49 143.62,1320.22 144,1324.5 144.4,1321.61 144.8,1313.76 145.2,1302.19 145.6,1288.14 146,1272.85 146.4,1257.56 146.8,1243.51 147.2,1231.94 147.6,1224.09 148,1221.2 148.34,1222.12 148.68,1224.3 149.02,1226.9 149.36,1229.08 149.7,1230 150.07,1228.42 150.45,1224.27 150.82,1218.39 151.2,1211.65 151.57,1204.91 151.95,1199.03 152.32,1194.88 152.7,1193.3 153.07,1196.61 153.45,1205.68 153.82,1219.22 154.19,1235.97 154.56,1254.64 154.94,1273.96 155.31,1292.63 155.68,1309.38 156.05,1322.92 156.43,1331.99 156.8,1335.3 157.18,1331.09 157.56,1319.54 157.95,1302.29 158.33,1280.96 158.71,1257.19 159.09,1232.61 159.47,1208.84 159.85,1187.51 160.24,1170.26 160.62,1158.71 161,1154.5 161.39,1157.49 161.78,1165.7 162.17,1177.96 162.56,1193.12 162.95,1210.01 163.35,1227.49 163.74,1244.38 164.13,1259.54 164.52,1271.8 164.91,1280.01 165.3,1283 165.66,1281.74 166.01,1278.5 166.37,1274.07 166.73,1269.23 167.09,1264.8 167.44,1261.56 167.8,1260.3 168.17,1261.02 168.53,1262.81 168.9,1265.15 169.27,1267.49 169.63,1269.28 170,1270 170.39,1267.02 170.78,1258.94 171.17,1247.04 171.56,1232.58 171.95,1216.85 172.34,1201.12 172.73,1186.66 173.12,1174.76 173.51,1166.68 173.9,1163.7 174.28,1167.64 174.66,1178.44 175.05,1194.57 175.43,1214.52 175.81,1236.75 176.19,1259.75 176.57,1281.98 176.95,1301.93 177.34,1318.06 177.72,1328.86 178.1,1332.8 178.49,1329.41 178.88,1320.11 179.27,1306.22 179.66,1289.04 180.05,1269.9 180.45,1250.1 180.84,1230.96 181.23,1213.78 181.62,1199.89 182.01,1190.59 182.4,1187.2 182.78,1188.85 183.16,1193.27 183.53,1199.7 183.91,1207.35 184.29,1215.44 184.67,1223.2 185.04,1229.85 185.42,1234.61 185.8,1236.7 186.14,1237.05 186.48,1237.26 186.82,1237.43 187.16,1237.64 187.5,1238 187.87,1240.7 188.23,1247.11 188.6,1256.16 188.97,1266.76 189.33,1277.84 189.7,1288.33 190.07,1297.15 190.43,1303.23 190.8,1305.5 191.2,1302.01 191.6,1292.45 192,1278.17 192.4,1260.51 192.8,1240.83 193.2,1220.47 193.6,1200.79 194,1183.13 194.4,1168.85 194.8,1159.29 195.2,1155.8 195.57,1159.38 195.95,1169.21 196.32,1183.9 196.69,1202.05 197.06,1222.29 197.44,1243.21 197.81,1263.45 198.18,1281.6 198.55,1296.29 198.93,1306.12 199.3,1309.7 199.7,1307.53 200.1,1301.63 200.5,1292.91 200.9,1282.3 201.3,1270.7 201.7,1259.03 202.1,1248.21 202.5,1239.16 202.9,1232.78 203.3,1230 203.64,1229.55 203.98,1229.26 204.32,1229.04 204.66,1228.75 205,1228.3 205.38,1226.49 205.75,1222.77 206.12,1217.81 206.5,1212.26 206.88,1206.8 207.25,1202.07 207.62,1198.75 208,1197.5 208.4,1201.01 208.8,1210.53 209.2,1224.56 209.6,1241.61 210,1260.15 210.4,1278.69 210.8,1295.74 211.2,1309.77 211.6,1319.29 212,1322.8 212.38,1319.77 212.75,1311.39 213.12,1298.74 213.5,1282.87 213.88,1264.87 214.25,1245.8 214.62,1226.73 215,1208.73 215.38,1192.86 215.75,1180.21 216.12,1171.83 216.5,1168.8 216.89,1171.23 217.28,1177.91 217.67,1187.88 218.06,1200.2 218.45,1213.94 218.85,1228.16 219.24,1241.9 219.63,1254.22 220.02,1264.19 220.41,1270.87 220.8,1273.3 221.17,1272.63 221.53,1270.94 221.9,1268.75 222.27,1266.56 222.63,1264.87 223,1264.2 223.34,1264.72 223.68,1265.96 224.02,1267.44 224.36,1268.68 224.7,1269.2 225.09,1266.97 225.48,1260.84 225.87,1251.69 226.26,1240.38 226.65,1227.77 227.05,1214.73 227.44,1202.12 227.83,1190.81 228.22,1181.66 228.61,1175.53 229,1173.3 229.39,1176.69 229.78,1185.98 230.17,1199.86 230.56,1217.03 230.95,1236.16 231.35,1255.94 231.74,1275.07 232.13,1292.24 232.52,1306.12 232.91,1315.41 233.3,1318.8 233.7,1315.98 234.1,1308.25 234.5,1296.71 234.9,1282.44 235.3,1266.53 235.7,1250.07 236.1,1234.16 236.5,1219.89 236.9,1208.35 237.3,1200.62 237.7,1197.8 238.08,1198.68 238.46,1201.06 238.83,1204.58 239.21,1208.85 239.59,1213.51 239.97,1218.18 240.34,1222.48 240.72,1226.05 241.1,1228.5 241.43,1229.74 241.75,1230.67 242.07,1231.63 242.4,1233 242.78,1236.46 243.16,1242.42 243.54,1250.21 243.92,1259.15 244.3,1268.57 244.68,1277.8 245.06,1286.15 245.44,1292.95 245.82,1297.52 246.2,1299.2 246.59,1296.15 246.98,1287.79 247.37,1275.3 247.76,1259.86 248.15,1242.65 248.55,1224.85 248.94,1207.64 249.33,1192.2 249.72,1179.71 250.11,1171.35 250.5,1168.3 250.89,1171.33 251.28,1179.63 251.67,1192.03 252.06,1207.37 252.45,1224.46 252.85,1242.14 253.24,1259.23 253.63,1274.57 254.02,1286.97 254.41,1295.27 254.8,1298.3 255.18,1296.75 255.56,1292.51 255.94,1286.2 256.32,1278.43 256.7,1269.84 257.08,1261.03 257.46,1252.62 257.84,1245.23 258.22,1239.49 258.6,1236 258.93,1234.5 259.25,1233.42 259.57,1232.39 259.9,1231 260.29,1228.18 260.67,1224.08 261.06,1219.21 261.45,1214.09 261.84,1209.21 262.23,1205.1 262.61,1202.26 263,1201.2 263.38,1203.38 263.75,1209.42 264.12,1218.54 264.5,1229.98 264.88,1242.95 265.25,1256.7 265.62,1270.45 266,1283.42 266.38,1294.86 266.75,1303.98 267.12,1310.02 267.5,1312.2 267.89,1309.15 268.28,1300.78 268.67,1288.28 269.06,1272.83 269.45,1255.61 269.85,1237.79 270.24,1220.57 270.63,1205.12 271.02,1192.62 271.41,1184.25 271.8,1181.2 272.2,1183.18 272.6,1188.62 273,1196.74 273.4,1206.77 273.8,1217.96 274.2,1229.54 274.6,1240.73 275,1250.76 275.4,1258.88 275.8,1264.32 276.2,1266.3 276.54,1266.26 276.88,1266.16 277.22,1266.04 277.56,1265.94 277.9,1265.9 278.26,1266.27 278.62,1267.17 278.98,1268.23 279.34,1269.13 279.7,1269.5 280.08,1267.78 280.47,1263.02 280.85,1255.83 281.23,1246.81 281.62,1236.59 282,1225.75 282.38,1214.91 282.77,1204.69 283.15,1195.67 283.53,1188.48 283.92,1183.72 284.3,1182 284.68,1184.47 285.05,1191.3 285.43,1201.61 285.8,1214.54 286.18,1229.21 286.55,1244.75 286.93,1260.29 287.3,1274.96 287.68,1287.89 288.05,1298.2 288.43,1305.03 288.8,1307.5 289.18,1305.51 289.55,1300 289.93,1291.67 290.3,1281.24 290.68,1269.4 291.05,1256.85 291.43,1244.3 291.8,1232.46 292.18,1222.03 292.55,1213.7 292.93,1208.19 293.3,1206.2 293.67,1206.77 294.03,1208.34 294.4,1210.67 294.77,1213.52 295.13,1216.66 295.5,1219.87 295.87,1222.9 296.23,1225.52 296.6,1227.5 296.93,1228.67 297.25,1229.59 297.57,1230.6 297.9,1232 298.28,1235.68 298.66,1242.15 299.03,1250.55 299.41,1260.02 299.79,1269.71 300.17,1278.74 300.54,1286.25 300.92,1291.39 301.3,1293.3 301.68,1291.05 302.05,1284.81 302.43,1275.39 302.8,1263.59 303.18,1250.19 303.55,1236 303.93,1221.81 304.3,1208.41 304.68,1196.61 305.05,1187.19 305.43,1180.95 305.8,1178.7 306.2,1181.27 306.6,1188.33 307,1198.87 307.4,1211.91 307.8,1226.44 308.2,1241.46 308.6,1255.99 309,1269.03 309.4,1279.57 309.8,1286.63 310.2,1289.2 310.58,1287.7 310.96,1283.66 311.33,1277.73 311.71,1270.57 312.09,1262.84 312.47,1255.21 312.84,1248.33 313.22,1242.88 313.6,1239.5 313.93,1238 314.25,1236.91 314.57,1235.87 314.9,1234.5 315.28,1231.95 315.66,1228.36 316.03,1224.09 316.41,1219.5 316.79,1214.94 317.17,1210.78 317.54,1207.36 317.92,1205.05 318.3,1204.2 318.69,1206.51 319.08,1212.84 319.47,1222.29 319.86,1233.98 320.25,1247.01 320.65,1260.49 321.04,1273.52 321.43,1285.21 321.82,1294.66 322.21,1300.99 322.6,1303.3 322.98,1301.08 323.37,1294.94 323.75,1285.67 324.13,1274.06 324.52,1260.87 324.9,1246.9 325.28,1232.93 325.67,1219.74 326.05,1208.12 326.43,1198.86 326.82,1192.72 327.2,1190.5 327.57,1192.04 327.95,1196.27 328.32,1202.62 328.69,1210.53 329.06,1219.43 329.44,1228.75 329.81,1237.91 330.18,1246.36 330.55,1253.52 330.93,1258.82 331.3,1261.7 331.68,1263.15 332.06,1264.49 332.43,1265.72 332.81,1266.8 333.19,1267.72 333.57,1268.47 333.94,1269.03 334.32,1269.38 334.7,1269.5 335.08,1268.14 335.47,1264.36 335.85,1258.59 336.24,1251.28 336.62,1242.87 337.01,1233.8 337.39,1224.5 337.78,1215.43 338.16,1207.02 338.55,1199.71 338.93,1193.94 339.32,1190.16 339.7,1188.8 340.07,1190.95 340.45,1196.89 340.82,1205.86 341.2,1217.11 341.57,1229.88 341.95,1243.4 342.32,1256.92 342.7,1269.69 343.07,1280.94 343.45,1289.91 343.82,1295.85 344.2,1298 344.58,1296.31 344.97,1291.64 345.35,1284.59 345.73,1275.76 346.12,1265.73 346.5,1255.1 346.88,1244.47 347.27,1234.44 347.65,1225.61 348.03,1218.56 348.42,1213.89 348.8,1212.2 349.19,1212.69 349.57,1214.01 349.96,1215.96 350.35,1218.31 350.74,1220.85 351.12,1223.38 351.51,1225.66 351.9,1227.5 352.22,1228.61 352.55,1229.55 352.88,1230.59 353.2,1232 353.59,1235.52 353.98,1241.54 354.37,1249.29 354.76,1257.97 355.14,1266.81 355.53,1275.05 355.92,1281.89 356.31,1286.57 356.7,1288.3 357.07,1286.32 357.45,1280.83 357.82,1272.55 358.2,1262.17 358.57,1250.38 358.95,1237.9 359.32,1225.42 359.7,1213.63 360.07,1203.25 360.45,1194.97 360.82,1189.48 361.2,1187.5 361.57,1189.45 361.95,1194.85 362.32,1203 362.7,1213.22 363.07,1224.81 363.45,1237.1 363.82,1249.39 364.2,1260.98 364.57,1271.2 364.95,1279.35 365.32,1284.75 365.7,1286.7 366.09,1286.03 366.48,1284.1 366.87,1281.06 367.26,1277.04 367.65,1272.18 368.04,1266.63 368.43,1260.53 368.82,1254 369.21,1247.19 369.6,1240.25 369.99,1233.31 370.38,1226.5 370.77,1219.97 371.16,1213.87 371.55,1208.32 371.94,1203.46 372.33,1199.44 372.72,1196.4 373.11,1194.47 373.5,1193.8 373.88,1195.95 374.25,1201.91 374.62,1210.91 375,1222.19 375.38,1234.99 375.75,1248.55 376.12,1262.11 376.5,1274.91 376.88,1286.19 377.25,1295.19 377.62,1301.15 378,1303.3 378.39,1300.95 378.78,1294.44 379.18,1284.61 379.57,1272.29 379.96,1258.31 380.35,1243.5 380.74,1228.69 381.13,1214.71 381.52,1202.39 381.92,1192.56 382.31,1186.05 382.7,1183.7 383.07,1184.76 383.44,1187.74 383.81,1192.33 384.18,1198.21 384.55,1205.08 384.92,1212.63 385.28,1220.54 385.65,1228.51 386.02,1236.22 386.39,1243.36 386.76,1249.63 387.13,1254.71 387.5,1258.3 387.86,1260.96 388.21,1263.58 388.57,1266.01 388.93,1268.13 389.29,1269.8 389.64,1270.9 390,1271.3 390.38,1269.75 390.77,1265.45 391.15,1258.89 391.54,1250.58 391.92,1241.01 392.31,1230.69 392.69,1220.11 393.08,1209.79 393.46,1200.22 393.85,1191.91 394.23,1185.35 394.62,1181.05 395,1179.5 395.38,1181.81 395.75,1188.18 396.12,1197.81 396.5,1209.89 396.88,1223.59 397.25,1238.1 397.62,1252.61 398,1266.31 398.38,1278.39 398.75,1288.02 399.12,1294.39 399.5,1296.7 399.88,1295.16 400.27,1290.89 400.65,1284.37 401.04,1276.11 401.42,1266.6 401.81,1256.35 402.19,1245.85 402.58,1235.6 402.96,1226.09 403.35,1217.83 403.73,1211.31 404.12,1207.04 404.5,1205.5 404.88,1205.78 405.25,1206.57 405.62,1207.81 406,1209.43 406.38,1211.35 406.75,1213.52 407.12,1215.86 407.5,1218.3 407.88,1222.03 408.26,1227.85 408.65,1235.24 409.03,1243.69 409.41,1252.67 409.79,1261.69 410.17,1270.22 410.55,1277.75 410.94,1283.77 411.32,1287.76 411.7,1289.2 412.07,1287.35 412.44,1282.21 412.81,1274.37 413.18,1264.43 413.55,1253 413.92,1240.67 414.28,1228.03 414.65,1215.7 415.02,1204.27 415.39,1194.33 415.76,1186.49 416.13,1181.35 416.5,1179.5 416.89,1181.46 417.28,1186.89 417.68,1195.08 418.07,1205.35 418.46,1217 418.85,1229.35 419.24,1241.7 419.63,1253.35 420.02,1263.62 420.42,1271.81 420.81,1277.24 421.2,1279.2 421.59,1278.54 421.99,1276.67 422.38,1273.71 422.78,1269.83 423.17,1265.15 423.57,1259.83 423.96,1254.01 424.36,1247.83 424.75,1241.43 425.15,1234.97 425.54,1228.57 425.94,1222.39 426.33,1216.57 426.73,1211.25 427.12,1206.57 427.52,1202.69 427.91,1199.73 428.31,1197.86 428.7,1197.2 429.08,1199.12 429.47,1204.44 429.85,1212.48 430.23,1222.56 430.62,1233.99 431,1246.1 431.38,1258.21 431.77,1269.64 432.15,1279.72 432.53,1287.76 432.92,1293.08 433.3,1295 433.69,1292.97 434.08,1287.35 434.48,1278.86 434.87,1268.22 435.26,1256.14 435.65,1243.35 436.04,1230.56 436.43,1218.48 436.82,1207.84 437.22,1199.35 437.61,1193.73 438,1191.7 438.37,1193.23 438.73,1197.41 439.1,1203.58 439.47,1211.11 439.83,1219.35 440.2,1227.68 440.57,1235.44 440.93,1241.99 441.3,1246.7 441.7,1250.27 442.1,1253.3 442.5,1255.93 442.9,1258.33 443.3,1260.66 443.7,1263.08 444.1,1265.74 444.5,1268.8"/>
<text class="t" text-anchor="end" x="59" y="1143.75">10</text>
<text class="t" text-anchor="end" x="59" y="1198.55">5</text>
<text class="t" text-anchor="end" x="59" y="1249.65">0</text>
<text class="t" text-anchor="end" x="59" y="1304.85">-5</text>
<text class="t" text-anchor="end" x="59" y="1357.45">-10</text>
<text class="t" text-anchor="middle" x="62.5" y="1370.4">0</text>
<text class="t" text-anchor="middle" x="99.2" y="1370.4">2</text>
<text class="t" text-anchor="middle" x="137.6" y="1370.4">4</text>
<text class="t" text-anchor="middle" x="176" y="1370.4">6</text>
<text class="t" text-anchor="middle" x="214.4" y="1370.4">8</text>
<text class="t" text-anchor="middle" x="253.5" y="1370.4">10</text>
<text class="t" text-anchor="middle" x="291.9" y="1370.4">12</text>
<text class="t" text-anchor="middle" x="330.3" y="1370.4">14</text>
<text class="t" text-anchor="middle" x="368.7" y="1370.4">16</text>
<text class="t" text-anchor="middle" x="407.1" y="1370.4">18</text>
<text class="t" text-anchor="middle" x="445.5" y="1370.4">20</text>
<text class="t" text-anchor="middle" x="253.25" y="1386.2">Time <tspan font-style="italic">t</tspan>/s</text>
<text class="t" text-anchor="middle" transform="translate(34.7 1245) rotate(-90)"><tspan font-style="italic">x</tspan><tspan font-style="italic" font-size="11" dy="3.5">7</tspan><tspan dy="-3.5">/mm</tspan></text>
</g>
<g id="chart-h">
<path class="ax" d="M620 1135.3V1352.5H1003.3M620 1135.3h2.6M620 1193.3h2.6M620 1244.2h2.6M620 1299.2h2.6M620 1352.5h2.6M620 1352.5v-2.6M658.33 1352.5v-2.6M696.66 1352.5v-2.6M734.99 1352.5v-2.6M773.32 1352.5v-2.6M811.65 1352.5v-2.6M849.98 1352.5v-2.6M888.31 1352.5v-2.6M926.64 1352.5v-2.6M964.97 1352.5v-2.6M1003.3 1352.5v-2.6"/>
<polyline class="ln" points="620,1265 620.4,1275.57 620.8,1286.76 621.2,1297.74 621.6,1307.7 622,1315.82 622.4,1321.29 622.8,1323.3 623.19,1320.64 623.59,1313.17 623.98,1301.72 624.37,1287.06 624.76,1270.01 625.16,1251.35 625.55,1231.9 625.94,1212.45 626.34,1193.79 626.73,1176.74 627.12,1162.08 627.51,1150.63 627.91,1143.16 628.3,1140.5 628.68,1143.11 629.06,1150.46 629.44,1161.82 629.82,1176.46 630.2,1193.65 630.58,1212.66 630.96,1232.77 631.34,1253.23 631.72,1273.34 632.1,1292.35 632.48,1309.54 632.86,1324.18 633.24,1335.54 633.62,1342.89 634,1345.5 634.37,1343.55 634.74,1338.09 635.11,1329.7 635.49,1318.97 635.86,1306.49 636.23,1292.84 636.6,1278.6 636.97,1264.36 637.34,1250.71 637.71,1238.23 638.09,1227.5 638.46,1219.11 638.83,1213.65 639.2,1211.7 639.6,1213.04 640,1216.63 640.4,1221.84 640.8,1228.01 641.2,1234.49 641.6,1240.66 642,1245.87 642.4,1249.46 642.8,1250.8 643.18,1249.64 643.56,1246.44 643.95,1241.67 644.33,1235.77 644.71,1229.2 645.09,1222.4 645.47,1215.83 645.85,1209.93 646.24,1205.16 646.62,1201.96 647,1200.8 647.39,1202.93 647.79,1208.91 648.18,1218.09 648.57,1229.82 648.96,1243.48 649.36,1258.42 649.75,1274 650.14,1289.58 650.54,1304.52 650.93,1318.18 651.32,1329.91 651.71,1339.09 652.11,1345.07 652.5,1347.2 652.88,1344.69 653.26,1337.64 653.64,1326.74 654.02,1312.7 654.4,1296.2 654.78,1277.96 655.16,1258.67 655.54,1239.03 655.92,1219.74 656.3,1201.5 656.68,1185 657.06,1170.96 657.44,1160.06 657.82,1153.01 658.2,1150.5 658.59,1152.74 658.99,1159.01 659.38,1168.65 659.77,1180.97 660.16,1195.31 660.56,1210.99 660.95,1227.35 661.34,1243.71 661.74,1259.39 662.13,1273.73 662.52,1286.05 662.91,1295.69 663.31,1301.96 663.7,1304.2 664.08,1303.12 664.45,1300.13 664.83,1295.61 665.2,1289.94 665.58,1283.51 665.95,1276.7 666.33,1269.89 666.7,1263.46 667.08,1257.79 667.45,1253.27 667.83,1250.28 668.2,1249.2 668.57,1250.13 668.93,1252.61 669.3,1256.2 669.67,1260.46 670.03,1264.94 670.4,1269.2 670.77,1272.79 671.13,1275.27 671.5,1276.2 671.87,1274.62 672.24,1270.21 672.61,1263.42 672.99,1254.75 673.36,1244.65 673.73,1233.61 674.1,1222.1 674.47,1210.59 674.84,1199.55 675.21,1189.45 675.59,1180.78 675.96,1173.99 676.33,1169.58 676.7,1168 677.1,1170.62 677.5,1177.94 677.9,1189.19 678.3,1203.59 678.7,1220.33 679.1,1238.65 679.5,1257.75 679.9,1276.85 680.3,1295.17 680.7,1311.91 681.1,1326.31 681.5,1337.56 681.9,1344.88 682.3,1347.5 682.68,1345.38 683.06,1339.4 683.44,1330.16 683.82,1318.26 684.2,1304.28 684.58,1288.82 684.96,1272.47 685.34,1255.83 685.72,1239.48 686.1,1224.02 686.48,1210.04 686.86,1198.14 687.24,1188.9 687.62,1182.92 688,1180.8 688.38,1182.12 688.77,1185.8 689.15,1191.4 689.54,1198.5 689.92,1206.67 690.31,1215.49 690.69,1224.51 691.08,1233.33 691.46,1241.5 691.85,1248.6 692.23,1254.2 692.62,1257.88 693,1259.2 693.38,1258.43 693.75,1256.4 694.12,1253.54 694.5,1250.25 694.88,1246.96 695.25,1244.1 695.62,1242.07 696,1241.3 696.4,1242.67 696.8,1246.45 697.2,1252.16 697.6,1259.32 698,1267.44 698.4,1276.05 698.8,1284.66 699.2,1292.78 699.6,1299.94 700,1305.65 700.4,1309.43 700.8,1310.8 701.18,1308.81 701.56,1303.23 701.94,1294.6 702.32,1283.47 702.7,1270.41 703.08,1255.96 703.46,1240.68 703.84,1225.12 704.22,1209.84 704.6,1195.39 704.98,1182.33 705.36,1171.2 705.74,1162.57 706.12,1156.99 706.5,1155 706.88,1157.17 707.26,1163.26 707.64,1172.68 708.02,1184.82 708.4,1199.07 708.78,1214.84 709.16,1231.51 709.54,1248.49 709.92,1265.16 710.3,1280.93 710.68,1295.18 711.06,1307.32 711.44,1316.74 711.82,1322.83 712.2,1325 712.58,1323.49 712.96,1319.26 713.34,1312.76 713.71,1304.44 714.09,1294.77 714.47,1284.19 714.85,1273.15 715.23,1262.11 715.61,1251.53 715.99,1241.86 716.36,1233.54 716.74,1227.04 717.12,1222.81 717.5,1221.3 717.89,1222.01 718.28,1223.91 718.67,1226.67 719.06,1229.93 719.44,1233.37 719.83,1236.63 720.22,1239.39 720.61,1241.29 721,1242 721.38,1241.12 721.76,1238.71 722.15,1235.1 722.53,1230.64 722.91,1225.67 723.29,1220.53 723.67,1215.56 724.05,1211.1 724.44,1207.49 724.82,1205.08 725.2,1204.2 725.59,1206.04 725.99,1211.19 726.38,1219.09 726.77,1229.2 727.16,1240.96 727.56,1253.83 727.95,1267.25 728.34,1280.67 728.74,1293.54 729.13,1305.3 729.52,1315.41 729.91,1323.31 730.31,1328.46 730.7,1330.3 731.09,1328.18 731.49,1322.23 731.88,1313.03 732.27,1301.16 732.67,1287.24 733.06,1271.83 733.45,1255.54 733.85,1238.96 734.24,1222.67 734.63,1207.26 735.03,1193.34 735.42,1181.47 735.81,1172.27 736.21,1166.32 736.6,1164.2 736.99,1166 737.39,1171.03 737.78,1178.76 738.17,1188.64 738.56,1200.15 738.96,1212.73 739.35,1225.85 739.74,1238.97 740.14,1251.55 740.53,1263.06 740.92,1272.94 741.31,1280.67 741.71,1285.7 742.1,1287.5 742.48,1286.7 742.86,1284.49 743.25,1281.2 743.63,1277.13 744.01,1272.6 744.39,1267.9 744.77,1263.37 745.15,1259.3 745.54,1256.01 745.92,1253.8 746.3,1253 746.66,1253.54 747.01,1254.99 747.37,1257.1 747.72,1259.59 748.08,1262.21 748.43,1264.7 748.79,1266.81 749.14,1268.26 749.5,1268.8 749.88,1267.43 750.26,1263.6 750.64,1257.72 751.01,1250.2 751.39,1241.45 751.77,1231.88 752.15,1221.9 752.53,1211.92 752.91,1202.35 753.29,1193.6 753.66,1186.08 754.04,1180.2 754.42,1176.37 754.8,1175 755.18,1176.95 755.56,1182.43 755.94,1190.91 756.32,1201.84 756.7,1214.67 757.08,1228.86 757.46,1243.86 757.84,1259.14 758.22,1274.14 758.6,1288.33 758.98,1301.16 759.36,1312.09 759.74,1320.57 760.12,1326.05 760.5,1328 760.9,1326.25 761.3,1321.33 761.7,1313.73 762.1,1303.93 762.5,1292.43 762.9,1279.71 763.3,1266.25 763.7,1252.55 764.1,1239.09 764.5,1226.37 764.9,1214.87 765.3,1205.07 765.7,1197.47 766.1,1192.55 766.5,1190.8 766.9,1191.91 767.3,1194.96 767.7,1199.58 768.1,1205.37 768.5,1211.94 768.9,1218.9 769.3,1225.86 769.7,1232.43 770.1,1238.22 770.5,1242.84 770.9,1245.89 771.3,1247 771.66,1246.57 772.01,1245.45 772.37,1243.93 772.73,1242.27 773.09,1240.75 773.44,1239.63 773.8,1239.2 774.18,1240.21 774.57,1243.02 774.95,1247.31 775.34,1252.75 775.72,1259 776.11,1265.75 776.49,1272.65 776.88,1279.4 777.26,1285.65 777.65,1291.09 778.03,1295.38 778.42,1298.19 778.8,1299.2 779.19,1297.48 779.59,1292.64 779.98,1285.16 780.37,1275.52 780.77,1264.2 781.16,1251.68 781.55,1238.44 781.95,1224.96 782.34,1211.72 782.73,1199.2 783.13,1187.88 783.52,1178.24 783.91,1170.76 784.31,1165.92 784.7,1164.2 785.09,1166.01 785.47,1171.1 785.86,1178.97 786.25,1189.11 786.63,1201.01 787.02,1214.18 787.41,1228.11 787.79,1242.29 788.18,1256.22 788.57,1269.39 788.95,1281.29 789.34,1291.43 789.73,1299.3 790.11,1304.39 790.5,1306.2 790.89,1305.17 791.27,1302.28 791.66,1297.81 792.05,1292.04 792.43,1285.28 792.82,1277.79 793.21,1269.88 793.59,1261.82 793.98,1253.91 794.37,1246.42 794.75,1239.66 795.14,1233.89 795.53,1229.42 795.91,1226.53 796.3,1225.5 796.66,1225.96 797.01,1227.15 797.37,1228.77 797.73,1230.53 798.09,1232.15 798.44,1233.34 798.8,1233.8 799.17,1233.21 799.55,1231.57 799.92,1229.1 800.3,1226 800.67,1222.48 801.05,1218.75 801.42,1215.02 801.8,1211.5 802.17,1208.4 802.55,1205.93 802.92,1204.29 803.3,1203.7 803.69,1205.3 804.09,1209.77 804.48,1216.64 804.87,1225.43 805.26,1235.65 805.66,1246.84 806.05,1258.5 806.44,1270.16 806.84,1281.35 807.23,1291.57 807.62,1300.36 808.01,1307.23 808.41,1311.7 808.8,1313.3 809.19,1311.64 809.57,1306.94 809.96,1299.64 810.35,1290.17 810.74,1278.97 811.12,1266.47 811.51,1253.1 811.9,1239.3 812.29,1225.5 812.67,1212.13 813.06,1199.63 813.45,1188.42 813.84,1178.96 814.23,1171.66 814.61,1166.96 815,1165.3 815.39,1166.7 815.77,1170.65 816.16,1176.74 816.55,1184.59 816.93,1193.82 817.32,1204.02 817.71,1214.81 818.09,1225.79 818.48,1236.58 818.87,1246.78 819.25,1256.01 819.64,1263.86 820.03,1269.95 820.41,1273.9 820.8,1275.3 821.19,1274.7 821.58,1273.05 821.97,1270.63 822.36,1267.7 822.75,1264.5 823.14,1261.3 823.53,1258.37 823.92,1255.95 824.31,1254.3 824.7,1253.7 825.07,1254.23 825.44,1255.6 825.81,1257.48 826.19,1259.52 826.56,1261.4 826.93,1262.77 827.3,1263.3 827.69,1262.13 828.09,1258.83 828.48,1253.73 828.87,1247.16 829.27,1239.45 829.66,1230.92 830.05,1221.89 830.45,1212.71 830.84,1203.68 831.23,1195.15 831.63,1187.44 832.02,1180.87 832.41,1175.77 832.81,1172.47 833.2,1171.3 833.6,1173.41 834,1179.3 834.4,1188.36 834.8,1199.95 835.2,1213.43 835.6,1228.17 836,1243.55 836.4,1258.93 836.8,1273.67 837.2,1287.15 837.6,1298.74 838,1307.8 838.4,1313.69 838.8,1315.8 839.19,1314.39 839.57,1310.39 839.96,1304.19 840.35,1296.14 840.74,1286.62 841.12,1276 841.51,1264.63 841.9,1252.9 842.29,1241.17 842.67,1229.8 843.06,1219.18 843.45,1209.66 843.84,1201.61 844.23,1195.41 844.61,1191.41 845,1190 845.39,1190.85 845.78,1193.19 846.17,1196.72 846.57,1201.15 846.96,1206.17 847.35,1211.5 847.74,1216.83 848.13,1221.85 848.53,1226.28 848.92,1229.81 849.31,1232.15 849.7,1233 850.06,1232.94 850.41,1232.8 850.77,1232.61 851.13,1232.39 851.49,1232.2 851.84,1232.06 852.2,1232 852.58,1233.23 852.97,1236.67 853.35,1241.91 853.74,1248.55 854.12,1256.19 854.51,1264.43 854.89,1272.87 855.28,1281.11 855.66,1288.75 856.05,1295.39 856.43,1300.63 856.82,1304.07 857.2,1305.3 857.59,1303.58 857.97,1298.74 858.36,1291.26 858.75,1281.62 859.13,1270.3 859.52,1257.78 859.91,1244.54 860.29,1231.06 860.68,1217.82 861.07,1205.3 861.45,1193.98 861.84,1184.34 862.23,1176.86 862.61,1172.02 863,1170.3 863.4,1172.05 863.8,1176.97 864.2,1184.57 864.6,1194.37 865,1205.87 865.4,1218.59 865.8,1232.05 866.2,1245.75 866.6,1259.21 867,1271.93 867.4,1283.43 867.8,1293.23 868.2,1300.83 868.6,1305.75 869,1307.5 869.37,1306.45 869.74,1303.5 870.11,1298.97 870.49,1293.17 870.86,1286.43 871.23,1279.04 871.6,1271.33 871.97,1263.61 872.34,1256.2 872.71,1249.4 873.09,1243.54 873.46,1238.93 873.83,1235.87 874.2,1234.7 874.56,1234.59 874.91,1234.52 875.27,1234.47 875.63,1234.43 875.99,1234.38 876.34,1234.31 876.7,1234.2 877.08,1233.52 877.46,1231.87 877.84,1229.46 878.22,1226.47 878.6,1223.1 878.98,1219.55 879.35,1216.01 879.73,1212.67 880.11,1209.74 880.49,1207.4 880.87,1205.86 881.25,1205.3 881.63,1206.71 882.02,1210.67 882.4,1216.79 882.78,1224.68 883.17,1233.95 883.55,1244.2 883.93,1255.03 884.32,1266.07 884.7,1276.9 885.08,1287.15 885.47,1296.42 885.85,1304.31 886.23,1310.43 886.62,1314.39 887,1315.8 887.39,1314.25 887.79,1309.86 888.18,1303.04 888.58,1294.19 888.97,1283.72 889.36,1272.04 889.76,1259.55 890.15,1246.65 890.54,1233.75 890.94,1221.26 891.33,1209.58 891.72,1199.11 892.12,1190.26 892.51,1183.44 892.91,1179.05 893.3,1177.5 893.69,1178.68 894.09,1181.99 894.48,1187.12 894.87,1193.73 895.27,1201.48 895.66,1210.06 896.05,1219.13 896.45,1228.37 896.84,1237.44 897.23,1246.02 897.63,1253.77 898.02,1260.38 898.41,1265.51 898.81,1268.82 899.2,1270 899.57,1269.65 899.93,1268.7 900.3,1267.33 900.67,1265.7 901.03,1264 901.4,1262.37 901.77,1261 902.13,1260.05 902.5,1259.7 902.86,1259.99 903.21,1260.75 903.57,1261.79 903.93,1262.91 904.29,1263.95 904.64,1264.71 905,1265 905.39,1264.03 905.77,1261.27 906.16,1257 906.55,1251.45 906.94,1244.89 907.33,1237.57 907.71,1229.74 908.1,1221.65 908.49,1213.56 908.88,1205.73 909.26,1198.41 909.65,1191.85 910.04,1186.3 910.43,1182.03 910.81,1179.27 911.2,1178.3 911.6,1179.94 912,1184.55 912.4,1191.68 912.8,1200.87 913.2,1211.67 913.6,1223.6 914,1236.22 914.4,1249.08 914.8,1261.7 915.2,1273.63 915.6,1284.43 916,1293.62 916.4,1300.75 916.8,1305.36 917.2,1307 917.59,1305.77 917.99,1302.29 918.38,1296.89 918.78,1289.89 919.17,1281.6 919.56,1272.35 919.96,1262.46 920.35,1252.25 920.74,1242.04 921.14,1232.15 921.53,1222.9 921.92,1214.61 922.32,1207.61 922.71,1202.21 923.11,1198.73 923.5,1197.5 923.88,1198 924.25,1199.41 924.62,1201.55 925,1204.26 925.38,1207.37 925.75,1210.72 926.12,1214.16 926.5,1217.5 926.88,1220.59 927.25,1223.26 927.62,1225.36 928,1226.7 928.4,1227.5 928.8,1228.07 929.2,1228.56 929.6,1229.15 930,1230 930.38,1231.21 930.75,1232.89 931.13,1235.04 931.51,1237.66 931.88,1240.77 932.26,1244.36 932.64,1248.44 933.02,1253.02 933.39,1258.1 933.77,1263.68 934.15,1269.77 934.52,1276.38 934.9,1283.5 935.25,1298.31 935.6,1309.7 935.99,1308.03 936.39,1303.33 936.78,1296.08 937.17,1286.72 937.57,1275.74 937.96,1263.59 938.35,1250.74 938.75,1237.66 939.14,1224.81 939.53,1212.66 939.93,1201.68 940.32,1192.32 940.71,1185.07 941.11,1180.37 941.5,1178.7 941.89,1180.33 942.27,1184.93 942.66,1192.04 943.05,1201.2 943.43,1211.96 943.82,1223.86 944.21,1236.44 944.59,1249.26 944.98,1261.84 945.37,1273.74 945.75,1284.5 946.14,1293.66 946.53,1300.77 946.91,1305.37 947.3,1307 947.68,1306.26 948.06,1304.15 948.44,1300.89 948.82,1296.65 949.2,1291.64 949.58,1286.05 949.96,1280.07 950.34,1273.91 950.72,1267.74 951.1,1261.77 951.48,1256.2 951.86,1251.21 952.24,1247 952.62,1243.76 953,1241.7 953.4,1240.45 953.8,1239.53 954.2,1238.74 954.6,1237.86 955,1236.7 955.38,1235.03 955.75,1232.69 956.12,1229.84 956.5,1226.63 956.88,1223.22 957.25,1219.77 957.62,1216.42 958,1213.33 958.38,1210.66 958.75,1208.56 959.12,1207.19 959.5,1206.7 959.9,1208.09 960.3,1212 960.7,1218.05 961.1,1225.84 961.5,1234.99 961.9,1245.1 962.3,1255.8 962.7,1266.7 963.1,1277.4 963.5,1287.51 963.9,1296.66 964.3,1304.45 964.7,1310.5 965.1,1314.41 965.5,1315.8 965.89,1314.31 966.27,1310.09 966.66,1303.53 967.05,1295.02 967.44,1284.95 967.83,1273.72 968.21,1261.7 968.6,1249.3 968.99,1236.9 969.38,1224.88 969.76,1213.65 970.15,1203.58 970.54,1195.07 970.93,1188.51 971.31,1184.29 971.7,1182.8 972.08,1183.75 972.46,1186.43 972.84,1190.59 973.23,1195.99 973.61,1202.38 973.99,1209.5 974.37,1217.13 974.75,1225 975.13,1232.87 975.51,1240.5 975.89,1247.62 976.27,1254.01 976.66,1259.41 977.04,1263.57 977.42,1266.25 977.8,1267.2 978.16,1267.03 978.51,1266.61 978.87,1266.02 979.23,1265.38 979.59,1264.79 979.94,1264.37 980.3,1264.2 980.69,1264.4 981.07,1264.91 981.46,1265.62 981.84,1266.38 982.23,1267.09 982.61,1267.6 983,1267.8 983.38,1266.91 983.76,1264.38 984.15,1260.42 984.53,1255.27 984.91,1249.13 985.29,1242.22 985.68,1234.77 986.06,1226.99 986.44,1219.11 986.82,1211.33 987.21,1203.88 987.59,1196.97 987.97,1190.83 988.35,1185.68 988.74,1181.72 989.12,1179.19 989.5,1178.3 989.89,1179.69 990.27,1183.6 990.66,1189.69 991.05,1197.58 991.44,1206.92 991.83,1217.34 992.21,1228.49 992.6,1240 992.99,1251.51 993.38,1262.66 993.76,1273.08 994.15,1282.42 994.54,1290.31 994.93,1296.4 995.31,1300.31 995.7,1301.7 996.1,1300.91 996.5,1298.62 996.9,1295 997.3,1290.17 997.7,1284.29 998.1,1277.5 998.5,1269.95 998.9,1261.78 999.3,1253.13 999.7,1244.17 1000.1,1235.01 1000.5,1225.83 1000.9,1216.75 1001.3,1207.92 1001.7,1199.5"/>
<text class="t" text-anchor="end" x="618.6" y="1143.65">8</text>
<text class="t" text-anchor="end" x="618.6" y="1198.85">4</text>
<text class="t" text-anchor="end" x="618.6" y="1249.75">0</text>
<text class="t" text-anchor="end" x="618.6" y="1304.75">-4</text>
<text class="t" text-anchor="end" x="618.6" y="1356.75">-8</text>
<text class="t" text-anchor="middle" x="622" y="1369.7">0</text>
<text class="t" text-anchor="middle" x="658.63" y="1369.7">2</text>
<text class="t" text-anchor="middle" x="696.96" y="1369.7">4</text>
<text class="t" text-anchor="middle" x="735.29" y="1369.7">6</text>
<text class="t" text-anchor="middle" x="773.62" y="1369.7">8</text>
<text class="t" text-anchor="middle" x="812.65" y="1369.7">10</text>
<text class="t" text-anchor="middle" x="850.98" y="1369.7">12</text>
<text class="t" text-anchor="middle" x="889.31" y="1369.7">14</text>
<text class="t" text-anchor="middle" x="927.64" y="1369.7">16</text>
<text class="t" text-anchor="middle" x="965.97" y="1369.7">18</text>
<text class="t" text-anchor="middle" x="1004.3" y="1369.7">20</text>
<text class="t" text-anchor="middle" x="812.75" y="1385.5">Time <tspan font-style="italic">t</tspan>/s</text>
<text class="t" text-anchor="middle" transform="translate(599.2 1245) rotate(-90)"><tspan font-style="italic">x</tspan><tspan font-style="italic" font-size="11" dy="3.5">8</tspan><tspan dy="-3.5">/mm</tspan></text>
</g>
<g id="chart-i">
<path class="ax" d="M40.4 1570.3V1787.8H423.7M40.4 1570.3h2.6M40.4 1606.55h2.6M40.4 1642.8h2.6M40.4 1679.05h2.6M40.4 1715.3h2.6M40.4 1751.55h2.6M40.4 1787.8h2.6M40.4 1787.8v-2.6M78.73 1787.8v-2.6M117.06 1787.8v-2.6M155.39 1787.8v-2.6M193.72 1787.8v-2.6M232.05 1787.8v-2.6M270.38 1787.8v-2.6M308.71 1787.8v-2.6M347.04 1787.8v-2.6M385.37 1787.8v-2.6M423.7 1787.8v-2.6"/>
<polyline class="ln" points="40.5,1758.3 40.87,1735.04 41.24,1710.44 41.61,1685.39 41.98,1660.79 42.35,1637.53 42.72,1616.5 43.09,1598.59 43.46,1584.69 43.83,1575.7 44.2,1572.5 44.58,1575.93 44.97,1585.49 45.35,1600.05 45.74,1618.51 46.12,1639.75 46.51,1662.67 46.89,1686.13 47.28,1709.05 47.66,1730.29 48.05,1748.75 48.43,1763.31 48.82,1772.87 49.2,1776.3 49.58,1773.95 49.95,1767.44 50.33,1757.61 50.7,1745.29 51.08,1731.31 51.45,1716.5 51.83,1701.69 52.2,1687.71 52.58,1675.39 52.95,1665.56 53.33,1659.05 53.7,1656.7 54.06,1657.73 54.41,1660.39 54.77,1664.02 55.13,1667.98 55.49,1671.61 55.84,1674.27 56.2,1675.3 56.57,1673.8 56.93,1669.8 57.3,1664 57.67,1657.12 58.03,1649.88 58.4,1643 58.77,1637.2 59.13,1633.2 59.5,1631.7 59.88,1634.29 60.27,1641.49 60.65,1652.46 61.04,1666.38 61.42,1682.39 61.81,1699.66 62.19,1717.34 62.58,1734.61 62.96,1750.62 63.35,1764.54 63.73,1775.51 64.12,1782.71 64.5,1785.3 64.89,1781.24 65.28,1770.03 65.67,1753.1 66.07,1731.87 66.46,1707.77 66.85,1682.25 67.24,1656.73 67.63,1632.63 68.03,1611.4 68.42,1594.47 68.81,1583.26 69.2,1579.2 69.6,1582.65 70,1592.19 70.4,1606.59 70.8,1624.65 71.2,1645.14 71.6,1666.85 72,1688.56 72.4,1709.05 72.8,1727.11 73.2,1741.51 73.6,1751.05 74,1754.5 74.36,1753.06 74.71,1749.2 75.07,1743.61 75.42,1736.99 75.78,1730.01 76.13,1723.39 76.49,1717.8 76.84,1713.94 77.2,1712.5 77.56,1713.62 77.91,1716.52 78.27,1720.49 78.63,1724.81 78.99,1728.78 79.34,1731.68 79.7,1732.8 80.1,1729.97 80.5,1722.16 80.9,1710.36 81.3,1695.57 81.7,1678.78 82.1,1661 82.5,1643.22 82.9,1626.43 83.3,1611.64 83.7,1599.84 84.1,1592.03 84.5,1589.2 84.9,1593.03 85.3,1603.61 85.7,1619.61 86.1,1639.65 86.5,1662.4 86.9,1686.5 87.3,1710.6 87.7,1733.35 88.1,1753.39 88.5,1769.39 88.9,1779.97 89.3,1783.8 89.68,1780.92 90.05,1772.88 90.43,1760.64 90.81,1745.13 91.18,1727.27 91.56,1708.01 91.94,1688.29 92.32,1669.03 92.69,1651.17 93.07,1635.66 93.45,1623.42 93.82,1615.38 94.2,1612.5 94.57,1614.16 94.95,1618.71 95.32,1625.52 95.69,1633.93 96.06,1643.3 96.44,1653 96.81,1662.37 97.18,1670.78 97.55,1677.59 97.93,1682.14 98.3,1683.8 98.64,1683.2 98.98,1681.76 99.32,1680.04 99.66,1678.6 100,1678 100.39,1679.97 100.78,1685.36 101.17,1693.43 101.56,1703.39 101.95,1714.5 102.35,1726 102.74,1737.11 103.13,1747.07 103.52,1755.14 103.91,1760.53 104.3,1762.5 104.68,1759.36 105.07,1750.6 105.45,1737.26 105.84,1720.35 106.22,1700.89 106.61,1679.9 106.99,1658.4 107.38,1637.41 107.76,1617.95 108.15,1601.04 108.53,1587.7 108.92,1578.94 109.3,1575.8 109.68,1579.08 110.05,1588.21 110.43,1602.12 110.81,1619.76 111.18,1640.05 111.56,1661.94 111.94,1684.36 112.32,1706.25 112.69,1726.54 113.07,1744.18 113.45,1758.09 113.82,1767.22 114.2,1770.5 114.58,1768.28 114.97,1762.13 115.35,1752.84 115.73,1741.2 116.12,1727.99 116.5,1714 116.88,1700.01 117.27,1686.8 117.65,1675.16 118.03,1665.87 118.42,1659.72 118.8,1657.5 119.18,1658.25 119.56,1660.03 119.94,1662.17 120.32,1663.95 120.7,1664.7 121.1,1663.21 121.5,1659.21 121.9,1653.42 122.3,1646.56 122.7,1639.34 123.1,1632.48 123.5,1626.69 123.9,1622.69 124.3,1621.2 124.68,1623.96 125.07,1631.66 125.45,1643.38 125.84,1658.25 126.22,1675.35 126.61,1693.8 126.99,1712.7 127.38,1731.15 127.76,1748.25 128.15,1763.12 128.53,1774.84 128.92,1782.54 129.3,1785.3 129.68,1781.84 130.07,1772.2 130.45,1757.51 130.84,1738.88 131.22,1717.45 131.61,1694.34 131.99,1670.66 132.38,1647.55 132.76,1626.12 133.15,1607.49 133.53,1592.8 133.92,1583.16 134.3,1579.7 134.68,1582.11 135.05,1588.82 135.43,1599.04 135.81,1612.01 136.18,1626.92 136.56,1643.01 136.94,1659.49 137.32,1675.58 137.69,1690.49 138.07,1703.46 138.45,1713.68 138.82,1720.39 139.2,1722.8 139.57,1721.87 139.95,1719.42 140.32,1715.97 140.7,1712 141.07,1708.03 141.45,1704.58 141.82,1702.13 142.2,1701.2 142.55,1702.04 142.9,1704.13 143.25,1706.85 143.6,1709.57 143.95,1711.66 144.3,1712.5 144.68,1710.4 145.07,1704.57 145.45,1695.67 145.84,1684.39 146.22,1671.42 146.61,1657.42 146.99,1643.08 147.38,1629.08 147.76,1616.11 148.15,1604.83 148.53,1595.93 148.92,1590.1 149.3,1588 149.68,1591.26 150.07,1600.34 150.45,1614.19 150.84,1631.73 151.22,1651.92 151.61,1673.7 151.99,1696 152.38,1717.78 152.76,1737.97 153.15,1755.51 153.53,1769.36 153.92,1778.44 154.3,1781.7 154.7,1778.93 155.1,1771.24 155.5,1759.5 155.9,1744.63 156.3,1727.51 156.7,1709.05 157.1,1690.15 157.5,1671.69 157.9,1654.57 158.3,1639.7 158.7,1627.96 159.1,1620.27 159.5,1617.5 159.88,1618.89 160.26,1622.68 160.64,1628.28 161.02,1635.11 161.4,1642.58 161.78,1650.12 162.16,1657.13 162.54,1663.04 162.92,1667.26 163.3,1669.2 163.68,1669.68 164.06,1669.98 164.44,1670.22 164.82,1670.52 165.2,1671 165.57,1673.4 165.95,1678.92 166.32,1686.84 166.69,1696.48 167.06,1707.11 167.44,1718.04 167.81,1728.57 168.18,1737.98 168.55,1745.58 168.93,1750.65 169.3,1752.5 169.68,1749.59 170.07,1741.49 170.45,1729.14 170.84,1713.49 171.22,1695.48 171.61,1676.05 171.99,1656.15 172.38,1636.72 172.76,1618.71 173.15,1603.06 173.53,1590.71 173.92,1582.61 174.3,1579.7 174.7,1582.64 175.1,1590.82 175.5,1603.29 175.9,1619.1 176.3,1637.28 176.7,1656.9 177.1,1677 177.5,1696.62 177.9,1714.8 178.3,1730.61 178.7,1743.08 179.1,1751.26 179.5,1754.2 179.89,1752.2 180.28,1746.73 180.67,1738.52 181.06,1728.35 181.45,1716.97 181.85,1705.14 182.24,1693.61 182.63,1683.16 183.02,1674.54 183.41,1668.5 183.8,1665.8 184.14,1665.27 184.48,1664.93 184.82,1664.65 185.16,1664.32 185.5,1663.8 185.88,1662.16 186.26,1658.96 186.64,1654.61 187.02,1649.52 187.4,1644.09 187.78,1638.74 188.16,1633.86 188.54,1629.88 188.92,1627.19 189.3,1626.2 189.68,1628.64 190.05,1635.44 190.43,1645.8 190.81,1658.94 191.18,1674.05 191.56,1690.35 191.94,1707.05 192.32,1723.35 192.69,1738.46 193.07,1751.6 193.45,1761.96 193.82,1768.76 194.2,1771.2 194.59,1768.25 194.98,1760.02 195.38,1747.49 195.77,1731.6 196.16,1713.32 196.55,1693.6 196.95,1673.4 197.34,1653.68 197.73,1635.4 198.12,1619.51 198.52,1606.98 198.91,1598.75 199.3,1595.8 199.68,1597.77 200.05,1603.27 200.43,1611.64 200.81,1622.26 201.18,1634.48 201.56,1647.65 201.94,1661.15 202.32,1674.32 202.69,1686.54 203.07,1697.16 203.45,1705.53 203.82,1711.03 204.2,1713 204.57,1712.57 204.94,1711.47 205.31,1709.97 205.69,1708.33 206.06,1706.83 206.43,1705.73 206.8,1705.3 207.2,1705.8 207.6,1707.04 208,1708.65 208.4,1710.26 208.8,1711.5 209.2,1712 209.58,1710.28 209.96,1705.45 210.34,1698.03 210.71,1688.55 211.09,1677.51 211.47,1665.44 211.85,1652.85 212.23,1640.26 212.61,1628.19 212.99,1617.15 213.36,1607.67 213.74,1600.25 214.12,1595.42 214.5,1593.7 214.88,1596.83 215.27,1605.55 215.65,1618.84 216.04,1635.69 216.42,1655.08 216.81,1675.99 217.19,1697.41 217.58,1718.32 217.96,1737.71 218.35,1754.56 218.73,1767.85 219.12,1776.57 219.5,1779.7 219.9,1777.22 220.3,1770.32 220.7,1759.8 221.1,1746.47 221.5,1731.12 221.9,1714.58 222.3,1697.62 222.7,1681.08 223.1,1665.73 223.5,1652.4 223.9,1641.88 224.3,1634.98 224.7,1632.5 225.07,1633.44 225.43,1636 225.8,1639.79 226.17,1644.4 226.53,1649.44 226.9,1654.52 227.27,1659.24 227.63,1663.2 228,1666 228.35,1667.66 228.7,1668.91 229.05,1670.22 229.4,1672 229.8,1675.75 230.2,1681.72 230.6,1689.42 231,1698.37 231.4,1708.08 231.8,1718.07 232.2,1727.86 232.6,1736.95 233,1744.86 233.4,1751.12 233.8,1755.22 234.2,1756.7 234.58,1754.34 234.96,1747.73 235.34,1737.57 235.71,1724.58 236.09,1709.47 236.47,1692.94 236.85,1675.7 237.23,1658.46 237.61,1641.93 237.99,1626.82 238.36,1613.83 238.74,1603.67 239.12,1597.06 239.5,1594.7 239.88,1597.37 240.27,1604.79 240.65,1616.1 241.04,1630.44 241.42,1646.94 241.81,1664.74 242.19,1682.96 242.58,1700.76 242.96,1717.26 243.35,1731.6 243.73,1742.91 244.12,1750.33 244.5,1753 244.9,1751.18 245.3,1746.22 245.7,1738.82 246.1,1729.73 246.5,1719.66 246.9,1709.33 247.3,1699.48 247.7,1690.82 248.1,1684.09 248.5,1680 248.85,1678.18 249.2,1676.86 249.55,1675.61 249.9,1674 250.27,1671.49 250.63,1668.15 251,1664.18 251.37,1659.77 251.73,1655.13 252.1,1650.46 252.47,1645.96 252.83,1641.83 253.2,1638.27 253.57,1635.47 253.93,1633.65 254.3,1633 254.68,1635.47 255.07,1642.35 255.45,1652.83 255.84,1666.12 256.22,1681.41 256.61,1697.9 256.99,1714.8 257.38,1731.29 257.76,1746.58 258.15,1759.87 258.53,1770.35 258.92,1777.23 259.3,1779.7 259.7,1776.81 260.1,1768.75 260.5,1756.46 260.9,1740.89 261.3,1722.97 261.7,1703.65 262.1,1683.85 262.5,1664.53 262.9,1646.61 263.3,1631.04 263.7,1618.75 264.1,1610.69 264.5,1607.8 264.88,1609.58 265.27,1614.53 265.65,1622.1 266.04,1631.73 266.42,1642.85 266.81,1654.91 267.19,1667.34 267.58,1679.57 267.96,1691.06 268.35,1701.24 268.73,1709.55 269.12,1715.42 269.5,1718.3 269.88,1719.45 270.26,1720.51 270.65,1721.5 271.03,1722.38 271.41,1723.17 271.79,1723.86 272.17,1724.43 272.55,1724.89 272.94,1725.23 273.32,1725.43 273.7,1725.5 274.09,1723.78 274.49,1718.95 274.88,1711.53 275.27,1702.05 275.66,1691.01 276.06,1678.94 276.45,1666.35 276.84,1653.76 277.24,1641.69 277.63,1630.65 278.02,1621.17 278.41,1613.75 278.81,1608.92 279.2,1607.2 279.59,1609.98 279.98,1617.73 280.38,1629.55 280.77,1644.52 281.16,1661.75 281.55,1680.33 281.95,1699.37 282.34,1717.95 282.73,1735.18 283.12,1750.15 283.52,1761.97 283.91,1769.72 284.3,1772.5 284.69,1770.59 285.09,1765.23 285.48,1757 285.87,1746.47 286.26,1734.22 286.66,1720.82 287.05,1706.85 287.44,1692.88 287.84,1679.48 288.23,1667.23 288.62,1656.7 289.01,1648.47 289.41,1643.11 289.8,1641.2 290.17,1641.76 290.54,1643.31 290.91,1645.65 291.28,1648.57 291.65,1651.87 292.02,1655.35 292.39,1658.8 292.76,1662.03 293.13,1664.83 293.5,1667 293.85,1668.42 294.2,1669.56 294.55,1670.79 294.9,1672.5 295.27,1676.27 295.65,1682.72 296.02,1691.21 296.39,1701.11 296.76,1711.77 297.14,1722.55 297.51,1732.81 297.88,1741.91 298.25,1749.2 298.63,1754.04 299,1755.8 299.39,1753.58 299.79,1747.38 300.18,1737.85 300.57,1725.67 300.96,1711.49 301.36,1695.97 301.75,1679.8 302.14,1663.63 302.54,1648.11 302.93,1633.93 303.32,1621.75 303.71,1612.22 304.11,1606.02 304.5,1603.8 304.9,1606.22 305.3,1612.96 305.7,1623.23 306.1,1636.24 306.5,1651.22 306.9,1667.38 307.3,1683.92 307.7,1700.08 308.1,1715.06 308.5,1728.07 308.9,1738.34 309.3,1745.08 309.7,1747.5 310.1,1746.93 310.49,1745.3 310.89,1742.69 311.28,1739.2 311.68,1734.94 312.07,1730 312.47,1724.47 312.87,1718.46 313.26,1712.06 313.66,1705.37 314.05,1698.48 314.45,1691.5 314.85,1684.52 315.24,1677.63 315.64,1670.94 316.03,1664.54 316.43,1658.53 316.82,1653 317.22,1648.06 317.62,1643.8 318.01,1640.31 318.41,1637.7 318.8,1636.07 319.2,1635.5 319.58,1637.93 319.97,1644.65 320.35,1654.85 320.73,1667.7 321.12,1682.37 321.5,1698.03 321.88,1713.87 322.27,1729.05 322.65,1742.75 323.03,1754.14 323.42,1762.4 323.8,1766.7 324.16,1768.57 324.52,1770.3 324.89,1771.84 325.25,1773.18 325.61,1774.28 325.98,1775.1 326.34,1775.62 326.7,1775.8 327.09,1772.97 327.48,1765.08 327.88,1753.05 328.27,1737.8 328.66,1720.26 329.05,1701.34 329.45,1681.96 329.84,1663.04 330.23,1645.5 330.62,1630.25 331.02,1618.22 331.41,1610.33 331.8,1607.5 332.19,1608.99 332.57,1613.19 332.96,1619.65 333.34,1627.93 333.73,1637.62 334.11,1648.26 334.5,1659.43 334.89,1670.69 335.27,1681.6 335.66,1691.74 336.04,1700.66 336.43,1707.93 336.81,1713.13 337.2,1715.8 337.6,1717.08 338,1718.27 338.4,1719.36 338.8,1720.34 339.2,1721.2 339.6,1721.92 340,1722.51 340.4,1722.94 340.8,1723.21 341.2,1723.3 341.57,1721.82 341.95,1717.66 342.32,1711.23 342.69,1702.94 343.07,1693.2 343.44,1682.43 343.81,1671.05 344.19,1659.45 344.56,1648.07 344.93,1637.3 345.31,1627.56 345.68,1619.27 346.05,1612.84 346.43,1608.68 346.8,1607.2 347.18,1609.93 347.57,1617.52 347.95,1629.1 348.34,1643.77 348.72,1660.66 349.11,1678.87 349.49,1697.53 349.88,1715.74 350.26,1732.63 350.65,1747.3 351.03,1758.88 351.42,1766.47 351.8,1769.2 352.19,1767.32 352.57,1762.06 352.96,1753.98 353.34,1743.65 353.73,1731.62 354.11,1718.47 354.5,1704.75 354.89,1691.03 355.27,1677.88 355.66,1665.85 356.04,1655.52 356.43,1647.44 356.81,1642.18 357.2,1640.3 357.58,1640.87 357.96,1642.45 358.34,1644.84 358.72,1647.83 359.1,1651.21 359.48,1654.79 359.86,1658.37 360.24,1661.73 360.62,1664.67 361,1667 361.35,1668.53 361.7,1669.79 362.05,1671.15 362.4,1673 362.77,1676.82 363.15,1683.13 363.52,1691.33 363.89,1700.82 364.26,1711 364.64,1721.26 365.01,1731.01 365.38,1739.64 365.75,1746.55 366.13,1751.14 366.5,1752.8 366.88,1750.63 367.26,1744.55 367.64,1735.21 368.01,1723.26 368.39,1709.36 368.77,1694.16 369.15,1678.3 369.53,1662.44 369.91,1647.24 370.29,1633.34 370.66,1621.39 371.04,1612.05 371.42,1605.97 371.8,1603.8 372.18,1606.17 372.57,1612.78 372.95,1622.85 373.34,1635.61 373.72,1650.3 374.11,1666.14 374.49,1682.36 374.88,1698.2 375.26,1712.89 375.65,1725.65 376.03,1735.72 376.42,1742.33 376.8,1744.7 377.2,1744.14 377.59,1742.54 377.99,1739.99 378.38,1736.57 378.78,1732.4 379.18,1727.56 379.57,1722.15 379.97,1716.26 380.36,1709.99 380.76,1703.44 381.15,1696.69 381.55,1689.85 381.95,1683.01 382.34,1676.26 382.74,1669.71 383.13,1663.44 383.53,1657.55 383.93,1652.14 384.32,1647.3 384.72,1643.13 385.11,1639.71 385.51,1637.16 385.9,1635.56 386.3,1635 386.7,1637.27 387.1,1643.6 387.5,1653.25 387.9,1665.48 388.3,1679.55 388.7,1694.73 389.1,1710.27 389.5,1725.45 389.9,1739.52 390.3,1751.75 390.7,1761.4 391.1,1767.73 391.5,1770 391.86,1752.92 392.22,1712.2 392.58,1663.6 392.94,1622.88 393.3,1605.8 393.68,1608.67 394.07,1616.66 394.45,1628.84 394.84,1644.27 395.22,1662.03 395.61,1681.19 395.99,1700.81 396.38,1719.97 396.76,1737.73 397.15,1753.16 397.53,1765.34 397.92,1773.33 398.3,1776.2 398.7,1773.84 399.1,1767.29 399.5,1757.29 399.9,1744.62 400.3,1730.03 400.7,1714.31 401.1,1698.19 401.5,1682.47 401.9,1667.88 402.3,1655.21 402.7,1645.21 403.1,1638.66 403.5,1636.3 403.87,1637.23 404.23,1639.77 404.6,1643.51 404.97,1648.08 405.33,1653.07 405.7,1658.11 406.07,1662.78 406.43,1666.71 406.8,1669.5 407.15,1671.16 407.5,1672.42 407.85,1673.73 408.2,1675.5 408.57,1678.76 408.94,1683.78 409.31,1690.21 409.68,1697.68 410.05,1705.86 410.42,1714.4 410.78,1722.93 411.15,1731.11 411.52,1738.6 411.89,1745.03 412.26,1750.06 412.63,1753.33 413,1754.5 413.38,1752.25 413.76,1745.96 414.14,1736.29 414.51,1723.93 414.89,1709.54 415.27,1693.81 415.65,1677.4 416.03,1660.99 416.41,1645.26 416.79,1630.87 417.16,1618.51 417.54,1608.84 417.92,1602.55 418.3,1600.3 418.68,1601.84 419.07,1606.24 419.45,1613.18 419.84,1622.32 420.22,1633.35 420.61,1645.93 420.99,1659.73 421.38,1674.43 421.76,1689.71 422.15,1705.23 422.53,1720.67 422.92,1735.7 423.3,1750"/>
<text class="t" text-anchor="end" x="37.5" y="1578.65">12</text>
<text class="t" text-anchor="end" x="34" y="1612.1">8</text>
<text class="t" text-anchor="end" x="37.5" y="1648.35">4</text>
<text class="t" text-anchor="end" x="37.5" y="1684.6">0</text>
<text class="t" text-anchor="end" x="37.5" y="1720.85">-4</text>
<text class="t" text-anchor="end" x="34" y="1757.1">-8</text>
<text class="t" text-anchor="end" x="37.5" y="1792.45">-12</text>
<text class="t" text-anchor="middle" x="42.4" y="1805">0</text>
<text class="t" text-anchor="middle" x="79.03" y="1805">2</text>
<text class="t" text-anchor="middle" x="117.36" y="1805">4</text>
<text class="t" text-anchor="middle" x="155.69" y="1805">6</text>
<text class="t" text-anchor="middle" x="194.02" y="1805">8</text>
<text class="t" text-anchor="middle" x="233.05" y="1805">10</text>
<text class="t" text-anchor="middle" x="271.38" y="1805">12</text>
<text class="t" text-anchor="middle" x="309.71" y="1805">14</text>
<text class="t" text-anchor="middle" x="348.04" y="1805">16</text>
<text class="t" text-anchor="middle" x="386.37" y="1805">18</text>
<text class="t" text-anchor="middle" x="424.7" y="1805">20</text>
<text class="t" text-anchor="middle" x="232.25" y="1820.8">Time <tspan font-style="italic">t</tspan>/s</text>
<text class="t" text-anchor="middle" transform="translate(13.8 1680.4) rotate(-90)"><tspan font-style="italic">x</tspan><tspan font-style="italic" font-size="11" dy="3.5">9</tspan><tspan dy="-3.5">/mm</tspan></text>
</g>
<g id="chart-j">
<path class="ax" d="M640.3 1570.5V1788.3H1024.2M640.3 1570.5h2.6M640.3 1627h2.6M640.3 1679.4h2.6M640.3 1734.4h2.6M640.3 1788.2h2.6M640.3 1788.3v-2.6M678.69 1788.3v-2.6M717.08 1788.3v-2.6M755.47 1788.3v-2.6M793.86 1788.3v-2.6M832.25 1788.3v-2.6M870.64 1788.3v-2.6M909.03 1788.3v-2.6M947.42 1788.3v-2.6M985.81 1788.3v-2.6M1024.2 1788.3v-2.6"/>
<polyline class="ln" points="640.3,1719.2 642.7,1657 645,1595.8 645.1,1660 648.3,1675.8 648,1758 654.7,1596.7 658,1660 661.3,1675.8 661,1758.3 667.7,1597.2 671.2,1658.3 674.2,1758.8 680.5,1598.3 683.7,1656.7 687,1761.7 693.5,1602 696.7,1682.5 700,1698.3 699.8,1765 706.5,1604.2 709.7,1684.2 713,1700.8 712.8,1765.5 719.5,1602.5 722.7,1681.7 726.2,1697.5 725.8,1761.3 732.3,1596.3 735.7,1674.2 739.2,1690.8 738.8,1754.2 745.3,1590 748.7,1669.2 752,1685 751.7,1750 758.3,1589.6 761.5,1670.8 764.9,1754.2 771.25,1598.9 774.7,1679.2 777.8,1766.4 784.2,1612.5 787.2,1711.1 791,1727.1 790.6,1779.2 797.2,1622.2 800.3,1719.2 803.9,1734.4 803.6,1784.7 810,1621.8 813.2,1715.3 817.1,1730.6 816.7,1779.2 822.9,1612.9 826.1,1706.5 829.9,1721.5 829.4,1768.5 836.1,1602.1 839.2,1695.8 842.8,1711.1 842.5,1759 849,1595.1 852.5,1705.6 855.6,1755.3 861.9,1594.4 865,1706.9 868.3,1756.7 874.9,1597.6 878.1,1711.1 881.7,1726.4 881.4,1761.4 887.8,1602.8 890.9,1715.6 894.8,1731.25 894.35,1766.4 900.7,1608.1 903.75,1721.5 907.6,1736.1 907.2,1770.4 913.6,1610 916.7,1722.2 920.7,1736.1 920.1,1770.1 926.7,1606.5 929.7,1716 933.6,1730.6 933.1,1762.9 939.6,1596.5 942.6,1704.2 946.5,1719.4 946.1,1751.7 952.6,1585.8 955.8,1711.1 959,1743.1 965.6,1580.6 968.6,1709.7 971.9,1742.8 978.5,1585.4 981.5,1716 985.4,1729.2 985,1751.1 991.5,1595.6 994.4,1726.4 998.5,1739.6 997.9,1761.5 1004.4,1603.9 1007.5,1731.9 1011.4,1744.4 1010.8,1766.25 1017.4,1603.9 1020.6,1729.9 1024.2,1742.4 1023.9,1762.2 1024.3,1749.3"/>
<text class="t" text-anchor="end" x="637.8" y="1578.85">0.4</text>
<text class="t" text-anchor="end" x="637.8" y="1632.55">0.3</text>
<text class="t" text-anchor="end" x="637.8" y="1684.95">0.2</text>
<text class="t" text-anchor="end" x="637.8" y="1739.95">0.1</text>
<text class="t" text-anchor="end" x="637.8" y="1792.45">0</text>
<text class="t" text-anchor="middle" x="642.3" y="1805.5">0</text>
<text class="t" text-anchor="middle" x="678.99" y="1805.5">2</text>
<text class="t" text-anchor="middle" x="717.38" y="1805.5">4</text>
<text class="t" text-anchor="middle" x="755.77" y="1805.5">6</text>
<text class="t" text-anchor="middle" x="794.16" y="1805.5">8</text>
<text class="t" text-anchor="middle" x="833.25" y="1805.5">10</text>
<text class="t" text-anchor="middle" x="871.64" y="1805.5">12</text>
<text class="t" text-anchor="middle" x="910.03" y="1805.5">14</text>
<text class="t" text-anchor="middle" x="948.42" y="1805.5">16</text>
<text class="t" text-anchor="middle" x="986.81" y="1805.5">18</text>
<text class="t" text-anchor="middle" x="1025.2" y="1805.5">20</text>
<text class="t" text-anchor="middle" x="832.5" y="1821.3">Time <tspan font-style="italic">t</tspan>/s</text>
<text class="t" text-anchor="middle" transform="translate(611.7 1683.3) rotate(-90)"><tspan font-style="italic">γ</tspan><tspan font-style="italic" font-size="11" dy="3.5">10</tspan><tspan dy="-3.5"> /rad</tspan></text>
</g>
<g id="chart-k">
<path class="ax" d="M341.7 1965.8V2183H725M341.7 1965.8h2.6M341.7 2074.4h2.6M341.7 2183h2.6M341.7 2183v-2.6M380.03 2183v-2.6M418.36 2183v-2.6M456.69 2183v-2.6M495.02 2183v-2.6M533.35 2183v-2.6M571.68 2183v-2.6M610.01 2183v-2.6M648.34 2183v-2.6M686.67 2183v-2.6M725 2183v-2.6"/>
<polyline class="ln" points="341.7,2076.3 344.2,2167.6 346.8,2071.3 350,2055.8 349.8,2000.6 355.5,2168.1 358.25,2050.3 361.3,1995.6 366.9,2160.1 369.6,2043.2 372.6,1986.6 378.3,2150.6 380.9,2034.7 384.6,2019.2 384.1,1978.4 389.6,2145.6 392.4,2031.7 396,2015.7 395.5,1976.2 401,2145.6 403.7,2032.7 407.4,2017.2 406.9,1978.1 412.4,2147.6 415,2034.7 418.7,2019.2 418.2,1980.1 423.75,2149.1 426.5,2034.7 430.3,2019.7 429.6,1979.9 435.1,2147.4 437.9,2018.1 440.8,1978.5 446.4,2146.5 449.4,2018.1 452.2,1978.9 457.8,2149.3 460.3,2022.9 464,2009 463.5,1983.75 469.3,2156.25 471.7,2029.9 475.4,2016.4 474.9,1991.25 480.6,2163.2 482.9,2036.8 486.7,2022.9 486.1,1997.5 491.8,2166.4 494.3,2037.5 498.1,2023.6 497.5,1997.5 503.2,2163.2 505.7,2031.9 509.4,2017.6 508.9,1991.25 514.4,2156 517.1,2025 520.8,2010.4 520.3,1984 525.8,2150 528.6,2006.9 531.8,1980.6 537.2,2150 539.7,2009.7 543.6,1997.9 543.1,1983.6 548.5,2154.9 551.1,2014.6 554.7,2002.1 554.3,1989.9 559.9,2161.4 562.4,2020.8 566.1,2008.3 565.7,1995.1 571.3,2165.1 574,2022.6 577.55,2010.3 577,1997.5 582.9,2166.9 585.4,2023.2 589.2,2012.2 588.6,1998.8 594.1,2168 596.8,2024.8 600.4,2013 599.9,2000.7 605.4,2171.2 608.1,2029.5 611.7,2018 611.2,2005.1 616.75,2175.9 619.6,2034.2 623.2,2023.2 622.7,2009.3 628.1,2178.2 630.9,2020.8 634.1,2008.7 639.4,2173.5 642.4,2011.7 645.6,2003.5 650.75,2159.8 653.4,1997.2 656.6,1987.8 656.6,1984.2 662.1,2145.7 664.75,1985.4 668.4,1977.5 667.9,1972 673.4,2138.1 676.25,1983.1 679.7,1975.2 679.4,1970.9 684.9,2143.6 687.6,1992.8 690.9,1985.4 690.7,1981.5 696.2,2156.5 699.1,2005.9 702.5,1998.8 702.1,1994.9 707.7,2167.7 710.4,2014.2 713.7,2005.9 713.2,2001.6 719.1,2169.3 721.6,2003.5 724.7,1999.1 725.5,2013.75"/>
<text class="t" text-anchor="end" x="338.7" y="1974.15">0.6</text>
<text class="t" text-anchor="end" x="338.7" y="2079.95">0.3</text>
<text class="t" text-anchor="end" x="338.7" y="2187.65">0</text>
<text class="t" text-anchor="middle" x="343.7" y="2200.2">0</text>
<text class="t" text-anchor="middle" x="380.33" y="2200.2">2</text>
<text class="t" text-anchor="middle" x="418.66" y="2200.2">4</text>
<text class="t" text-anchor="middle" x="456.99" y="2200.2">6</text>
<text class="t" text-anchor="middle" x="495.32" y="2200.2">8</text>
<text class="t" text-anchor="middle" x="534.35" y="2200.2">10</text>
<text class="t" text-anchor="middle" x="572.68" y="2200.2">12</text>
<text class="t" text-anchor="middle" x="611.01" y="2200.2">14</text>
<text class="t" text-anchor="middle" x="649.34" y="2200.2">16</text>
<text class="t" text-anchor="middle" x="687.67" y="2200.2">18</text>
<text class="t" text-anchor="middle" x="726" y="2200.2">20</text>
<text class="t" text-anchor="middle" x="533.75" y="2216">Time <tspan font-style="italic">t</tspan>/s</text>
<text class="t" text-anchor="middle" transform="translate(312.5 2078.75) rotate(-90)"><tspan font-style="italic">β</tspan><tspan font-style="italic" font-size="11" dy="3.5">11</tspan><tspan dy="-3.5"> /rad</tspan></text>
</g>
<text class="c" id="cap0" x="14" y="317" style="word-spacing:6.39px">(a) Vibration-induced swing for front drum</text>
<text class="c" id="cap1" x="535" y="317" style="word-spacing:5.87px">(b) Vibration-induced swing for front ranging arm</text>
<text class="c" id="cap2" x="59" y="669" style="word-spacing:6px">(c) Vibration-induced displacement for</text>
<text class="c" id="cap3" x="165" y="699" style="word-spacing:4.75px">front haulage unit</text>
<text class="c" id="cap4" x="613.5" y="669" style="word-spacing:6.2px">(d) Vibration-induced displacement for</text>
<text class="c" id="cap5" x="761" y="699" style="word-spacing:4.82px">front walking unit</text>
<text class="c" id="cap6" x="46.5" y="1066.5" style="word-spacing:6.34px">(e) Vibration-induced displacement for</text>
<text class="c" id="cap7" x="161" y="1096.5" style="word-spacing:4.41px">front supporting unit</text>
<text class="c" id="cap8" x="563.5" y="1066.5" style="word-spacing:6.36px">(f) Vibration-induced displacement for body</text>
<text class="c" id="cap9" x="27.5" y="1447.5" style="word-spacing:6.53px">(g) Vibration-induced displacement for</text>
<text class="c" id="cap10" x="166.5" y="1487.5" style="word-spacing:4.7px">rear haulage unit</text>
<text class="c" id="cap11" x="596.5" y="1447.5" style="word-spacing:6.36px">(h) Vibration-induced displacement for</text>
<text class="c" id="cap12" x="715" y="1487.5" style="word-spacing:4.87px">rear supporting unit</text>
<text class="c" id="cap13" x="10" y="1882.5" style="word-spacing:6.24px">(i) Vibration-induced displacement for</text>
<text class="c" id="cap14" x="132.5" y="1922.5" style="word-spacing:5.27px">rear walking unit</text>
<text class="c" id="cap15" x="547.5" y="1882.5" style="word-spacing:5.72px">(j) Vibration-induced swing for rear ranging arm</text>
<text class="c" id="cap16" x="303.5" y="2289" style="word-spacing:-0.01px">(k) Vibration-induced swing for rear drum</text>
</svg></body></html>
